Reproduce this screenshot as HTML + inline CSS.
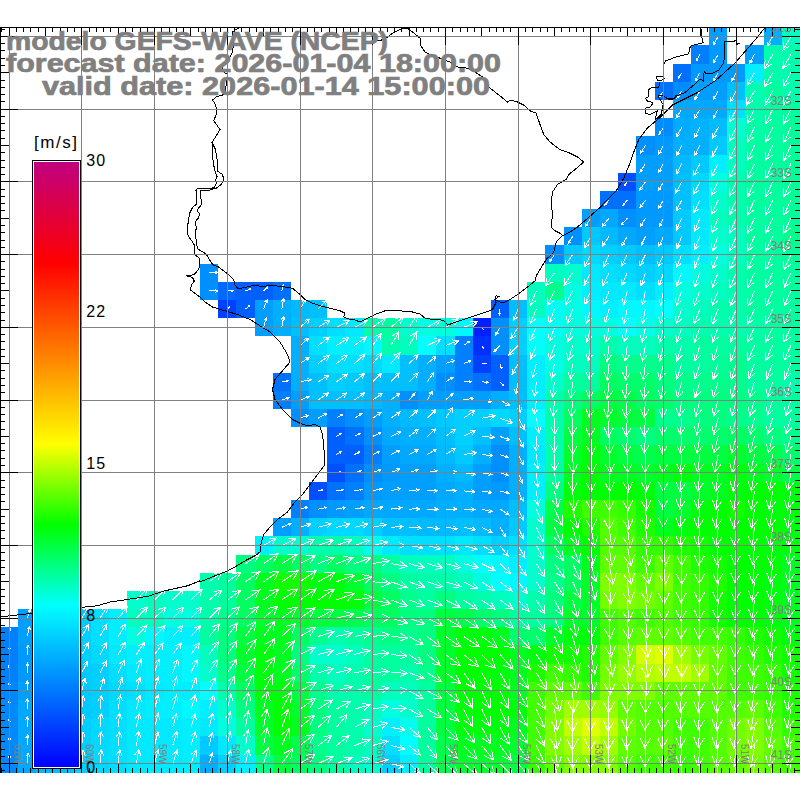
<!DOCTYPE html>
<html><head><meta charset="utf-8"><style>
html,body{margin:0;padding:0;background:#fff;width:800px;height:800px;overflow:hidden;position:relative}
</style></head><body>
<svg width="800" height="800" viewBox="0 0 800 800" style="position:absolute;left:0;top:0">
<defs><linearGradient id="cb" x1="0" y1="1" x2="0" y2="0"><stop offset="0%" stop-color="#0000ff"/><stop offset="26.7%" stop-color="#00ffff"/><stop offset="40%" stop-color="#00ff00"/><stop offset="53.3%" stop-color="#ffff00"/><stop offset="66.7%" stop-color="#ff8c00"/><stop offset="83.3%" stop-color="#ff0000"/><stop offset="100%" stop-color="#c00080"/></linearGradient></defs>
<g shape-rendering="crispEdges">
<rect x="709" y="27" width="18" height="18" fill="#009fff"/>
<rect x="764" y="27" width="18" height="18" fill="#00afff"/>
<rect x="782" y="27" width="18" height="18" fill="#00ffbf"/>
<rect x="691" y="45" width="18" height="19" fill="#0080ff"/>
<rect x="709" y="45" width="18" height="19" fill="#0099ff"/>
<rect x="745" y="45" width="19" height="19" fill="#009fff"/>
<rect x="764" y="45" width="36" height="19" fill="#00ffac"/>
<rect x="673" y="64" width="18" height="18" fill="#0070ff"/>
<rect x="691" y="64" width="54" height="18" fill="#0099ff"/>
<rect x="745" y="64" width="19" height="18" fill="#00efff"/>
<rect x="764" y="64" width="36" height="18" fill="#00ffac"/>
<rect x="655" y="82" width="18" height="18" fill="#0070ff"/>
<rect x="673" y="82" width="18" height="18" fill="#008cff"/>
<rect x="691" y="82" width="36" height="18" fill="#009fff"/>
<rect x="727" y="82" width="18" height="18" fill="#00bfff"/>
<rect x="745" y="82" width="19" height="18" fill="#00ffb3"/>
<rect x="764" y="82" width="18" height="18" fill="#00ff9f"/>
<rect x="782" y="82" width="18" height="18" fill="#00ffac"/>
<rect x="673" y="100" width="54" height="18" fill="#00a9ff"/>
<rect x="727" y="100" width="18" height="18" fill="#00dfff"/>
<rect x="745" y="100" width="19" height="18" fill="#00ffac"/>
<rect x="764" y="100" width="36" height="18" fill="#00ff9f"/>
<rect x="655" y="118" width="18" height="18" fill="#008cff"/>
<rect x="673" y="118" width="18" height="18" fill="#00acff"/>
<rect x="691" y="118" width="18" height="18" fill="#00b2ff"/>
<rect x="709" y="118" width="18" height="18" fill="#00bcff"/>
<rect x="727" y="118" width="18" height="18" fill="#00ffd2"/>
<rect x="745" y="118" width="19" height="18" fill="#00ffa6"/>
<rect x="764" y="118" width="18" height="18" fill="#00ff9f"/>
<rect x="782" y="118" width="18" height="18" fill="#00ff99"/>
<rect x="636" y="136" width="19" height="19" fill="#008fff"/>
<rect x="655" y="136" width="18" height="19" fill="#0099ff"/>
<rect x="673" y="136" width="36" height="19" fill="#00afff"/>
<rect x="709" y="136" width="18" height="19" fill="#00c9ff"/>
<rect x="727" y="136" width="18" height="19" fill="#00ffbf"/>
<rect x="745" y="136" width="37" height="19" fill="#00ff9f"/>
<rect x="782" y="136" width="18" height="19" fill="#00ff99"/>
<rect x="636" y="155" width="37" height="18" fill="#009fff"/>
<rect x="673" y="155" width="18" height="18" fill="#00b9ff"/>
<rect x="691" y="155" width="18" height="18" fill="#00c9ff"/>
<rect x="709" y="155" width="18" height="18" fill="#00efff"/>
<rect x="727" y="155" width="18" height="18" fill="#00ffbf"/>
<rect x="745" y="155" width="37" height="18" fill="#00ff9f"/>
<rect x="782" y="155" width="18" height="18" fill="#00ff99"/>
<rect x="618" y="173" width="18" height="18" fill="#0050ff"/>
<rect x="636" y="173" width="37" height="18" fill="#009fff"/>
<rect x="673" y="173" width="18" height="18" fill="#00bfff"/>
<rect x="691" y="173" width="18" height="18" fill="#00d9ff"/>
<rect x="709" y="173" width="18" height="18" fill="#00ffdf"/>
<rect x="727" y="173" width="18" height="18" fill="#00ffac"/>
<rect x="745" y="173" width="37" height="18" fill="#00ff9f"/>
<rect x="782" y="173" width="18" height="18" fill="#00ff99"/>
<rect x="600" y="191" width="36" height="18" fill="#0070ff"/>
<rect x="636" y="191" width="37" height="18" fill="#0099ff"/>
<rect x="673" y="191" width="18" height="18" fill="#00bfff"/>
<rect x="691" y="191" width="18" height="18" fill="#00dfff"/>
<rect x="709" y="191" width="18" height="18" fill="#00ffcc"/>
<rect x="727" y="191" width="18" height="18" fill="#00ffac"/>
<rect x="745" y="191" width="37" height="18" fill="#00ff9f"/>
<rect x="782" y="191" width="18" height="18" fill="#00ff99"/>
<rect x="582" y="209" width="18" height="18" fill="#009fff"/>
<rect x="600" y="209" width="18" height="18" fill="#00a9ff"/>
<rect x="618" y="209" width="18" height="18" fill="#008fff"/>
<rect x="636" y="209" width="37" height="18" fill="#0099ff"/>
<rect x="673" y="209" width="18" height="18" fill="#00c9ff"/>
<rect x="691" y="209" width="18" height="18" fill="#00e9ff"/>
<rect x="709" y="209" width="18" height="18" fill="#00ffbf"/>
<rect x="727" y="209" width="18" height="18" fill="#00ffac"/>
<rect x="745" y="209" width="37" height="18" fill="#00ff9f"/>
<rect x="782" y="209" width="18" height="18" fill="#00ff99"/>
<rect x="564" y="227" width="18" height="18" fill="#008fff"/>
<rect x="582" y="227" width="18" height="18" fill="#00c9ff"/>
<rect x="600" y="227" width="18" height="18" fill="#00b9ff"/>
<rect x="618" y="227" width="18" height="18" fill="#00a9ff"/>
<rect x="636" y="227" width="19" height="18" fill="#009fff"/>
<rect x="655" y="227" width="18" height="18" fill="#00a9ff"/>
<rect x="673" y="227" width="18" height="18" fill="#00c9ff"/>
<rect x="691" y="227" width="18" height="18" fill="#00e9ff"/>
<rect x="709" y="227" width="18" height="18" fill="#00ffcc"/>
<rect x="727" y="227" width="18" height="18" fill="#00ffbf"/>
<rect x="745" y="227" width="37" height="18" fill="#00ff9f"/>
<rect x="782" y="227" width="18" height="18" fill="#00ff8c"/>
<rect x="545" y="245" width="19" height="19" fill="#008fff"/>
<rect x="564" y="245" width="18" height="19" fill="#00c9ff"/>
<rect x="582" y="245" width="18" height="19" fill="#00d9ff"/>
<rect x="600" y="245" width="18" height="19" fill="#00cfff"/>
<rect x="618" y="245" width="18" height="19" fill="#00c9ff"/>
<rect x="636" y="245" width="19" height="19" fill="#00bfff"/>
<rect x="655" y="245" width="18" height="19" fill="#00c9ff"/>
<rect x="673" y="245" width="18" height="19" fill="#00dfff"/>
<rect x="691" y="245" width="18" height="19" fill="#00efff"/>
<rect x="709" y="245" width="18" height="19" fill="#00ffdf"/>
<rect x="727" y="245" width="18" height="19" fill="#00ffbf"/>
<rect x="745" y="245" width="37" height="19" fill="#00ff9f"/>
<rect x="782" y="245" width="18" height="19" fill="#00ff99"/>
<rect x="200" y="264" width="18" height="18" fill="#008fff"/>
<rect x="545" y="264" width="19" height="18" fill="#00ffbf"/>
<rect x="564" y="264" width="18" height="18" fill="#00ffcc"/>
<rect x="582" y="264" width="18" height="18" fill="#00e9ff"/>
<rect x="600" y="264" width="18" height="18" fill="#00dfff"/>
<rect x="618" y="264" width="18" height="18" fill="#00d9ff"/>
<rect x="636" y="264" width="19" height="18" fill="#00cfff"/>
<rect x="655" y="264" width="18" height="18" fill="#00d9ff"/>
<rect x="673" y="264" width="18" height="18" fill="#00f9ff"/>
<rect x="691" y="264" width="18" height="18" fill="#00ffdf"/>
<rect x="709" y="264" width="18" height="18" fill="#00ffcc"/>
<rect x="727" y="264" width="18" height="18" fill="#00ffac"/>
<rect x="745" y="264" width="55" height="18" fill="#00ff9f"/>
<rect x="200" y="282" width="18" height="18" fill="#008fff"/>
<rect x="218" y="282" width="18" height="18" fill="#0069ff"/>
<rect x="236" y="282" width="37" height="18" fill="#0060ff"/>
<rect x="273" y="282" width="18" height="18" fill="#0070ff"/>
<rect x="527" y="282" width="18" height="18" fill="#00ffbf"/>
<rect x="545" y="282" width="19" height="18" fill="#00ff8c"/>
<rect x="564" y="282" width="18" height="18" fill="#00ffdf"/>
<rect x="582" y="282" width="18" height="18" fill="#00efff"/>
<rect x="600" y="282" width="36" height="18" fill="#00e9ff"/>
<rect x="636" y="282" width="19" height="18" fill="#00dfff"/>
<rect x="655" y="282" width="18" height="18" fill="#00efff"/>
<rect x="673" y="282" width="18" height="18" fill="#00ffdf"/>
<rect x="691" y="282" width="18" height="18" fill="#00ffcc"/>
<rect x="709" y="282" width="18" height="18" fill="#00ffbf"/>
<rect x="727" y="282" width="18" height="18" fill="#00ffac"/>
<rect x="745" y="282" width="55" height="18" fill="#00ff9f"/>
<rect x="218" y="300" width="18" height="18" fill="#0040ff"/>
<rect x="236" y="300" width="19" height="18" fill="#0060ff"/>
<rect x="255" y="300" width="18" height="18" fill="#009fff"/>
<rect x="273" y="300" width="18" height="18" fill="#00afff"/>
<rect x="291" y="300" width="18" height="18" fill="#00b9ff"/>
<rect x="309" y="300" width="18" height="18" fill="#00bfff"/>
<rect x="491" y="300" width="18" height="18" fill="#0060ff"/>
<rect x="509" y="300" width="18" height="18" fill="#00bfff"/>
<rect x="527" y="300" width="18" height="18" fill="#00ffbf"/>
<rect x="545" y="300" width="19" height="18" fill="#00fff2"/>
<rect x="564" y="300" width="18" height="18" fill="#00ffe5"/>
<rect x="582" y="300" width="18" height="18" fill="#00f9ff"/>
<rect x="600" y="300" width="18" height="18" fill="#00efff"/>
<rect x="618" y="300" width="37" height="18" fill="#00f9ff"/>
<rect x="655" y="300" width="18" height="18" fill="#00ffff"/>
<rect x="673" y="300" width="18" height="18" fill="#00ffcc"/>
<rect x="691" y="300" width="18" height="18" fill="#00ffbf"/>
<rect x="709" y="300" width="36" height="18" fill="#00ffac"/>
<rect x="745" y="300" width="55" height="18" fill="#00ff9f"/>
<rect x="255" y="318" width="18" height="18" fill="#009fff"/>
<rect x="273" y="318" width="18" height="18" fill="#00afff"/>
<rect x="291" y="318" width="18" height="18" fill="#00bfff"/>
<rect x="309" y="318" width="18" height="18" fill="#00cfff"/>
<rect x="327" y="318" width="18" height="18" fill="#00dfff"/>
<rect x="345" y="318" width="19" height="18" fill="#00e9ff"/>
<rect x="364" y="318" width="18" height="18" fill="#00ffac"/>
<rect x="382" y="318" width="18" height="18" fill="#00ff9f"/>
<rect x="400" y="318" width="18" height="18" fill="#00ffcc"/>
<rect x="418" y="318" width="18" height="18" fill="#00ffe5"/>
<rect x="436" y="318" width="19" height="18" fill="#00ffdf"/>
<rect x="455" y="318" width="18" height="18" fill="#00f9ff"/>
<rect x="473" y="318" width="18" height="18" fill="#0020ff"/>
<rect x="491" y="318" width="18" height="18" fill="#008fff"/>
<rect x="509" y="318" width="18" height="18" fill="#00cfff"/>
<rect x="527" y="318" width="18" height="18" fill="#00ffff"/>
<rect x="545" y="318" width="19" height="18" fill="#00fff2"/>
<rect x="564" y="318" width="54" height="18" fill="#00ffdf"/>
<rect x="618" y="318" width="18" height="18" fill="#00ffff"/>
<rect x="636" y="318" width="19" height="18" fill="#00ffe5"/>
<rect x="655" y="318" width="18" height="18" fill="#00ffcc"/>
<rect x="673" y="318" width="18" height="18" fill="#00ffbf"/>
<rect x="691" y="318" width="54" height="18" fill="#00ffac"/>
<rect x="745" y="318" width="19" height="18" fill="#00ffa6"/>
<rect x="764" y="318" width="36" height="18" fill="#00ff9f"/>
<rect x="291" y="336" width="18" height="19" fill="#00afff"/>
<rect x="309" y="336" width="18" height="19" fill="#00dfff"/>
<rect x="327" y="336" width="37" height="19" fill="#00efff"/>
<rect x="364" y="336" width="18" height="19" fill="#00f9ff"/>
<rect x="382" y="336" width="18" height="19" fill="#00ffac"/>
<rect x="400" y="336" width="18" height="19" fill="#00ffbf"/>
<rect x="418" y="336" width="18" height="19" fill="#00ffff"/>
<rect x="436" y="336" width="19" height="19" fill="#00dfff"/>
<rect x="455" y="336" width="18" height="19" fill="#0080ff"/>
<rect x="473" y="336" width="18" height="19" fill="#0030ff"/>
<rect x="491" y="336" width="18" height="19" fill="#008fff"/>
<rect x="509" y="336" width="18" height="19" fill="#00cfff"/>
<rect x="527" y="336" width="18" height="19" fill="#00fff9"/>
<rect x="545" y="336" width="19" height="19" fill="#00ffdf"/>
<rect x="564" y="336" width="36" height="19" fill="#00ffcc"/>
<rect x="600" y="336" width="18" height="19" fill="#00ffac"/>
<rect x="618" y="336" width="37" height="19" fill="#00ffbf"/>
<rect x="655" y="336" width="36" height="19" fill="#00ffac"/>
<rect x="691" y="336" width="109" height="19" fill="#00ff9f"/>
<rect x="291" y="355" width="18" height="18" fill="#00afff"/>
<rect x="309" y="355" width="18" height="18" fill="#00cfff"/>
<rect x="327" y="355" width="37" height="18" fill="#00dfff"/>
<rect x="364" y="355" width="18" height="18" fill="#00d9ff"/>
<rect x="382" y="355" width="18" height="18" fill="#00e9ff"/>
<rect x="400" y="355" width="18" height="18" fill="#00bfff"/>
<rect x="418" y="355" width="18" height="18" fill="#00afff"/>
<rect x="436" y="355" width="19" height="18" fill="#009fff"/>
<rect x="455" y="355" width="18" height="18" fill="#0080ff"/>
<rect x="473" y="355" width="18" height="18" fill="#0040ff"/>
<rect x="491" y="355" width="18" height="18" fill="#0060ff"/>
<rect x="509" y="355" width="18" height="18" fill="#00bfff"/>
<rect x="527" y="355" width="18" height="18" fill="#00efff"/>
<rect x="545" y="355" width="19" height="18" fill="#00ffe5"/>
<rect x="564" y="355" width="36" height="18" fill="#00ffbf"/>
<rect x="600" y="355" width="18" height="18" fill="#00ff80"/>
<rect x="618" y="355" width="55" height="18" fill="#00ff8c"/>
<rect x="673" y="355" width="36" height="18" fill="#00ff9f"/>
<rect x="709" y="355" width="18" height="18" fill="#00ff99"/>
<rect x="727" y="355" width="18" height="18" fill="#00ff8c"/>
<rect x="745" y="355" width="55" height="18" fill="#00ff9f"/>
<rect x="273" y="373" width="18" height="18" fill="#0070ff"/>
<rect x="291" y="373" width="18" height="18" fill="#00afff"/>
<rect x="309" y="373" width="18" height="18" fill="#00bfff"/>
<rect x="327" y="373" width="18" height="18" fill="#00cfff"/>
<rect x="345" y="373" width="19" height="18" fill="#00c9ff"/>
<rect x="364" y="373" width="54" height="18" fill="#00bfff"/>
<rect x="418" y="373" width="18" height="18" fill="#00afff"/>
<rect x="436" y="373" width="19" height="18" fill="#008fff"/>
<rect x="455" y="373" width="18" height="18" fill="#0080ff"/>
<rect x="473" y="373" width="18" height="18" fill="#0070ff"/>
<rect x="491" y="373" width="18" height="18" fill="#0060ff"/>
<rect x="509" y="373" width="18" height="18" fill="#00bfff"/>
<rect x="527" y="373" width="18" height="18" fill="#00efff"/>
<rect x="545" y="373" width="19" height="18" fill="#00ffcc"/>
<rect x="564" y="373" width="36" height="18" fill="#00ff9f"/>
<rect x="600" y="373" width="18" height="18" fill="#00ff60"/>
<rect x="618" y="373" width="37" height="18" fill="#00ff6c"/>
<rect x="655" y="373" width="18" height="18" fill="#00ff80"/>
<rect x="673" y="373" width="72" height="18" fill="#00ff8c"/>
<rect x="745" y="373" width="37" height="18" fill="#00ff9f"/>
<rect x="782" y="373" width="18" height="18" fill="#00ffac"/>
<rect x="273" y="391" width="18" height="18" fill="#0080ff"/>
<rect x="291" y="391" width="18" height="18" fill="#009fff"/>
<rect x="309" y="391" width="55" height="18" fill="#00bfff"/>
<rect x="364" y="391" width="18" height="18" fill="#00b9ff"/>
<rect x="382" y="391" width="18" height="18" fill="#00afff"/>
<rect x="400" y="391" width="18" height="18" fill="#008fff"/>
<rect x="418" y="391" width="73" height="18" fill="#009fff"/>
<rect x="491" y="391" width="18" height="18" fill="#00afff"/>
<rect x="509" y="391" width="18" height="18" fill="#00bfff"/>
<rect x="527" y="391" width="18" height="18" fill="#00efff"/>
<rect x="545" y="391" width="19" height="18" fill="#00ffac"/>
<rect x="564" y="391" width="18" height="18" fill="#00ff80"/>
<rect x="582" y="391" width="18" height="18" fill="#00ff60"/>
<rect x="600" y="391" width="18" height="18" fill="#00ff40"/>
<rect x="618" y="391" width="18" height="18" fill="#00ff4c"/>
<rect x="636" y="391" width="19" height="18" fill="#00ff60"/>
<rect x="655" y="391" width="18" height="18" fill="#00ff6c"/>
<rect x="673" y="391" width="72" height="18" fill="#00ff80"/>
<rect x="745" y="391" width="19" height="18" fill="#00ff8c"/>
<rect x="764" y="391" width="36" height="18" fill="#00ff9f"/>
<rect x="291" y="409" width="18" height="18" fill="#008fff"/>
<rect x="309" y="409" width="18" height="18" fill="#009fff"/>
<rect x="327" y="409" width="18" height="18" fill="#0080ff"/>
<rect x="345" y="409" width="19" height="18" fill="#008fff"/>
<rect x="364" y="409" width="18" height="18" fill="#009fff"/>
<rect x="382" y="409" width="18" height="18" fill="#00afff"/>
<rect x="400" y="409" width="18" height="18" fill="#00b9ff"/>
<rect x="418" y="409" width="18" height="18" fill="#00bfff"/>
<rect x="436" y="409" width="19" height="18" fill="#00c9ff"/>
<rect x="455" y="409" width="36" height="18" fill="#00cfff"/>
<rect x="491" y="409" width="18" height="18" fill="#00d9ff"/>
<rect x="509" y="409" width="18" height="18" fill="#00cfff"/>
<rect x="527" y="409" width="18" height="18" fill="#00ffff"/>
<rect x="545" y="409" width="19" height="18" fill="#00ffac"/>
<rect x="564" y="409" width="18" height="18" fill="#00ff60"/>
<rect x="582" y="409" width="18" height="18" fill="#00ff20"/>
<rect x="600" y="409" width="18" height="18" fill="#00ff2d"/>
<rect x="618" y="409" width="37" height="18" fill="#00ff40"/>
<rect x="655" y="409" width="36" height="18" fill="#00ff8c"/>
<rect x="691" y="409" width="36" height="18" fill="#00ff80"/>
<rect x="727" y="409" width="37" height="18" fill="#00ff8c"/>
<rect x="764" y="409" width="36" height="18" fill="#00ff9f"/>
<rect x="327" y="427" width="18" height="18" fill="#0060ff"/>
<rect x="345" y="427" width="19" height="18" fill="#0070ff"/>
<rect x="364" y="427" width="18" height="18" fill="#008fff"/>
<rect x="382" y="427" width="18" height="18" fill="#00a9ff"/>
<rect x="400" y="427" width="36" height="18" fill="#00afff"/>
<rect x="436" y="427" width="19" height="18" fill="#00bfff"/>
<rect x="455" y="427" width="18" height="18" fill="#00cfff"/>
<rect x="473" y="427" width="18" height="18" fill="#00bfff"/>
<rect x="491" y="427" width="18" height="18" fill="#009fff"/>
<rect x="509" y="427" width="18" height="18" fill="#00bfff"/>
<rect x="527" y="427" width="18" height="18" fill="#00efff"/>
<rect x="545" y="427" width="19" height="18" fill="#00ffac"/>
<rect x="564" y="427" width="18" height="18" fill="#00ff40"/>
<rect x="582" y="427" width="18" height="18" fill="#00ff20"/>
<rect x="600" y="427" width="18" height="18" fill="#00ff60"/>
<rect x="618" y="427" width="18" height="18" fill="#00ff6c"/>
<rect x="636" y="427" width="19" height="18" fill="#00ff80"/>
<rect x="655" y="427" width="72" height="18" fill="#00ff6c"/>
<rect x="727" y="427" width="18" height="18" fill="#00ff60"/>
<rect x="745" y="427" width="19" height="18" fill="#00ff6c"/>
<rect x="764" y="427" width="18" height="18" fill="#00ff80"/>
<rect x="782" y="427" width="18" height="18" fill="#00ff8c"/>
<rect x="327" y="445" width="37" height="19" fill="#0060ff"/>
<rect x="364" y="445" width="18" height="19" fill="#0080ff"/>
<rect x="382" y="445" width="18" height="19" fill="#009fff"/>
<rect x="400" y="445" width="36" height="19" fill="#00a9ff"/>
<rect x="436" y="445" width="19" height="19" fill="#00b9ff"/>
<rect x="455" y="445" width="18" height="19" fill="#00c9ff"/>
<rect x="473" y="445" width="18" height="19" fill="#00afff"/>
<rect x="491" y="445" width="18" height="19" fill="#008fff"/>
<rect x="509" y="445" width="18" height="19" fill="#00afff"/>
<rect x="527" y="445" width="18" height="19" fill="#00e9ff"/>
<rect x="545" y="445" width="19" height="19" fill="#00ffac"/>
<rect x="564" y="445" width="18" height="19" fill="#00ff2d"/>
<rect x="582" y="445" width="18" height="19" fill="#00ff0d"/>
<rect x="600" y="445" width="18" height="19" fill="#00ff2d"/>
<rect x="618" y="445" width="18" height="19" fill="#00ff40"/>
<rect x="636" y="445" width="19" height="19" fill="#00ff4c"/>
<rect x="655" y="445" width="72" height="19" fill="#00ff40"/>
<rect x="727" y="445" width="18" height="19" fill="#00ff2d"/>
<rect x="745" y="445" width="19" height="19" fill="#00ff40"/>
<rect x="764" y="445" width="18" height="19" fill="#00ff4c"/>
<rect x="782" y="445" width="18" height="19" fill="#00ff6c"/>
<rect x="327" y="464" width="18" height="18" fill="#0050ff"/>
<rect x="345" y="464" width="19" height="18" fill="#0070ff"/>
<rect x="364" y="464" width="18" height="18" fill="#008fff"/>
<rect x="382" y="464" width="18" height="18" fill="#0099ff"/>
<rect x="400" y="464" width="36" height="18" fill="#009fff"/>
<rect x="436" y="464" width="19" height="18" fill="#00afff"/>
<rect x="455" y="464" width="18" height="18" fill="#00b9ff"/>
<rect x="473" y="464" width="18" height="18" fill="#009fff"/>
<rect x="491" y="464" width="18" height="18" fill="#008fff"/>
<rect x="509" y="464" width="18" height="18" fill="#00afff"/>
<rect x="527" y="464" width="18" height="18" fill="#00efff"/>
<rect x="545" y="464" width="19" height="18" fill="#00ff9f"/>
<rect x="564" y="464" width="18" height="18" fill="#00ff20"/>
<rect x="582" y="464" width="18" height="18" fill="#00ff00"/>
<rect x="600" y="464" width="36" height="18" fill="#00ff20"/>
<rect x="636" y="464" width="19" height="18" fill="#00ff2d"/>
<rect x="655" y="464" width="18" height="18" fill="#00ff20"/>
<rect x="673" y="464" width="18" height="18" fill="#00ff0d"/>
<rect x="691" y="464" width="36" height="18" fill="#00ff20"/>
<rect x="727" y="464" width="18" height="18" fill="#00ff0d"/>
<rect x="745" y="464" width="19" height="18" fill="#00ff20"/>
<rect x="764" y="464" width="18" height="18" fill="#00ff2d"/>
<rect x="782" y="464" width="18" height="18" fill="#00ff4c"/>
<rect x="309" y="482" width="18" height="18" fill="#0050ff"/>
<rect x="327" y="482" width="18" height="18" fill="#0070ff"/>
<rect x="345" y="482" width="19" height="18" fill="#0080ff"/>
<rect x="364" y="482" width="18" height="18" fill="#0099ff"/>
<rect x="382" y="482" width="54" height="18" fill="#009fff"/>
<rect x="436" y="482" width="19" height="18" fill="#00a9ff"/>
<rect x="455" y="482" width="18" height="18" fill="#00afff"/>
<rect x="473" y="482" width="18" height="18" fill="#009fff"/>
<rect x="491" y="482" width="18" height="18" fill="#0099ff"/>
<rect x="509" y="482" width="18" height="18" fill="#00afff"/>
<rect x="527" y="482" width="18" height="18" fill="#00efff"/>
<rect x="545" y="482" width="19" height="18" fill="#00ff80"/>
<rect x="564" y="482" width="18" height="18" fill="#00ff0d"/>
<rect x="582" y="482" width="54" height="18" fill="#00ff00"/>
<rect x="636" y="482" width="19" height="18" fill="#00ff0d"/>
<rect x="655" y="482" width="36" height="18" fill="#00ff40"/>
<rect x="691" y="482" width="18" height="18" fill="#00ff2d"/>
<rect x="709" y="482" width="18" height="18" fill="#00ff20"/>
<rect x="727" y="482" width="18" height="18" fill="#00ff0d"/>
<rect x="745" y="482" width="37" height="18" fill="#00ff00"/>
<rect x="782" y="482" width="18" height="18" fill="#00ff0d"/>
<rect x="291" y="500" width="18" height="18" fill="#0080ff"/>
<rect x="309" y="500" width="18" height="18" fill="#008fff"/>
<rect x="327" y="500" width="18" height="18" fill="#0099ff"/>
<rect x="345" y="500" width="19" height="18" fill="#009fff"/>
<rect x="364" y="500" width="72" height="18" fill="#00a9ff"/>
<rect x="436" y="500" width="37" height="18" fill="#00afff"/>
<rect x="473" y="500" width="36" height="18" fill="#00a9ff"/>
<rect x="509" y="500" width="18" height="18" fill="#00bfff"/>
<rect x="527" y="500" width="18" height="18" fill="#00ffdf"/>
<rect x="545" y="500" width="19" height="18" fill="#00ff4c"/>
<rect x="564" y="500" width="18" height="18" fill="#20ff00"/>
<rect x="582" y="500" width="36" height="18" fill="#40ff00"/>
<rect x="618" y="500" width="18" height="18" fill="#33ff00"/>
<rect x="636" y="500" width="19" height="18" fill="#13ff00"/>
<rect x="655" y="500" width="18" height="18" fill="#00ff40"/>
<rect x="673" y="500" width="18" height="18" fill="#00ff2d"/>
<rect x="691" y="500" width="18" height="18" fill="#00ff0d"/>
<rect x="709" y="500" width="18" height="18" fill="#00ff00"/>
<rect x="727" y="500" width="18" height="18" fill="#13ff00"/>
<rect x="745" y="500" width="19" height="18" fill="#00ff00"/>
<rect x="764" y="500" width="36" height="18" fill="#00ff0d"/>
<rect x="273" y="518" width="18" height="18" fill="#009fff"/>
<rect x="291" y="518" width="18" height="18" fill="#00afff"/>
<rect x="309" y="518" width="18" height="18" fill="#00cfff"/>
<rect x="327" y="518" width="37" height="18" fill="#00d9ff"/>
<rect x="364" y="518" width="18" height="18" fill="#00cfff"/>
<rect x="382" y="518" width="36" height="18" fill="#00bfff"/>
<rect x="418" y="518" width="37" height="18" fill="#00b9ff"/>
<rect x="455" y="518" width="18" height="18" fill="#00bfff"/>
<rect x="473" y="518" width="18" height="18" fill="#00b9ff"/>
<rect x="491" y="518" width="18" height="18" fill="#00afff"/>
<rect x="509" y="518" width="18" height="18" fill="#00c9ff"/>
<rect x="527" y="518" width="18" height="18" fill="#00ffcc"/>
<rect x="545" y="518" width="19" height="18" fill="#00ff40"/>
<rect x="564" y="518" width="18" height="18" fill="#00ff00"/>
<rect x="582" y="518" width="18" height="18" fill="#20ff00"/>
<rect x="600" y="518" width="18" height="18" fill="#53ff00"/>
<rect x="618" y="518" width="18" height="18" fill="#40ff00"/>
<rect x="636" y="518" width="19" height="18" fill="#20ff00"/>
<rect x="655" y="518" width="18" height="18" fill="#00ff20"/>
<rect x="673" y="518" width="18" height="18" fill="#00ff0d"/>
<rect x="691" y="518" width="91" height="18" fill="#00ff00"/>
<rect x="782" y="518" width="18" height="18" fill="#00ff0d"/>
<rect x="255" y="536" width="18" height="19" fill="#00efff"/>
<rect x="273" y="536" width="36" height="19" fill="#00ffcc"/>
<rect x="309" y="536" width="36" height="19" fill="#00ffac"/>
<rect x="345" y="536" width="19" height="19" fill="#00ffbf"/>
<rect x="364" y="536" width="18" height="19" fill="#00ffec"/>
<rect x="382" y="536" width="18" height="19" fill="#00e9ff"/>
<rect x="400" y="536" width="55" height="19" fill="#00dfff"/>
<rect x="455" y="536" width="18" height="19" fill="#00e9ff"/>
<rect x="473" y="536" width="18" height="19" fill="#00dfff"/>
<rect x="491" y="536" width="18" height="19" fill="#00cfff"/>
<rect x="509" y="536" width="18" height="19" fill="#00dfff"/>
<rect x="527" y="536" width="18" height="19" fill="#00ffcc"/>
<rect x="545" y="536" width="19" height="19" fill="#00ff60"/>
<rect x="564" y="536" width="18" height="19" fill="#00ff20"/>
<rect x="582" y="536" width="18" height="19" fill="#00ff00"/>
<rect x="600" y="536" width="36" height="19" fill="#53ff00"/>
<rect x="636" y="536" width="37" height="19" fill="#33ff00"/>
<rect x="673" y="536" width="18" height="19" fill="#20ff00"/>
<rect x="691" y="536" width="18" height="19" fill="#13ff00"/>
<rect x="709" y="536" width="55" height="19" fill="#00ff00"/>
<rect x="764" y="536" width="36" height="19" fill="#00ff0d"/>
<rect x="236" y="555" width="19" height="18" fill="#00ff80"/>
<rect x="255" y="555" width="18" height="18" fill="#00ff60"/>
<rect x="273" y="555" width="18" height="18" fill="#00ff40"/>
<rect x="291" y="555" width="18" height="18" fill="#00ff60"/>
<rect x="309" y="555" width="18" height="18" fill="#00ff80"/>
<rect x="327" y="555" width="18" height="18" fill="#00ff60"/>
<rect x="345" y="555" width="37" height="18" fill="#00ff80"/>
<rect x="382" y="555" width="18" height="18" fill="#00ff9f"/>
<rect x="400" y="555" width="55" height="18" fill="#00ffbf"/>
<rect x="455" y="555" width="18" height="18" fill="#00ffdf"/>
<rect x="473" y="555" width="18" height="18" fill="#00ffff"/>
<rect x="491" y="555" width="18" height="18" fill="#00f9ff"/>
<rect x="509" y="555" width="18" height="18" fill="#00efff"/>
<rect x="527" y="555" width="18" height="18" fill="#00ffcc"/>
<rect x="545" y="555" width="19" height="18" fill="#00ff80"/>
<rect x="564" y="555" width="18" height="18" fill="#00ff60"/>
<rect x="582" y="555" width="18" height="18" fill="#00ff20"/>
<rect x="600" y="555" width="36" height="18" fill="#60ff00"/>
<rect x="636" y="555" width="19" height="18" fill="#40ff00"/>
<rect x="655" y="555" width="18" height="18" fill="#60ff00"/>
<rect x="673" y="555" width="18" height="18" fill="#40ff00"/>
<rect x="691" y="555" width="18" height="18" fill="#20ff00"/>
<rect x="709" y="555" width="18" height="18" fill="#13ff00"/>
<rect x="727" y="555" width="55" height="18" fill="#00ff00"/>
<rect x="782" y="555" width="18" height="18" fill="#00ff20"/>
<rect x="200" y="573" width="18" height="18" fill="#00ffac"/>
<rect x="218" y="573" width="18" height="18" fill="#00ff9f"/>
<rect x="236" y="573" width="19" height="18" fill="#00ff60"/>
<rect x="255" y="573" width="18" height="18" fill="#00ff20"/>
<rect x="273" y="573" width="36" height="18" fill="#13ff00"/>
<rect x="309" y="573" width="36" height="18" fill="#00ff0d"/>
<rect x="345" y="573" width="19" height="18" fill="#00ff2d"/>
<rect x="364" y="573" width="18" height="18" fill="#00ff60"/>
<rect x="382" y="573" width="18" height="18" fill="#00ff80"/>
<rect x="400" y="573" width="18" height="18" fill="#00ff9f"/>
<rect x="418" y="573" width="37" height="18" fill="#00ffac"/>
<rect x="455" y="573" width="18" height="18" fill="#00ffbf"/>
<rect x="473" y="573" width="18" height="18" fill="#00ffdf"/>
<rect x="491" y="573" width="18" height="18" fill="#00ffff"/>
<rect x="509" y="573" width="18" height="18" fill="#00f9ff"/>
<rect x="527" y="573" width="18" height="18" fill="#00ffcc"/>
<rect x="545" y="573" width="19" height="18" fill="#00ff8c"/>
<rect x="564" y="573" width="18" height="18" fill="#00ff60"/>
<rect x="582" y="573" width="18" height="18" fill="#00ff2d"/>
<rect x="600" y="573" width="36" height="18" fill="#80ff00"/>
<rect x="636" y="573" width="19" height="18" fill="#60ff00"/>
<rect x="655" y="573" width="18" height="18" fill="#80ff00"/>
<rect x="673" y="573" width="18" height="18" fill="#40ff00"/>
<rect x="691" y="573" width="18" height="18" fill="#33ff00"/>
<rect x="709" y="573" width="18" height="18" fill="#20ff00"/>
<rect x="727" y="573" width="37" height="18" fill="#00ff00"/>
<rect x="764" y="573" width="18" height="18" fill="#00ff0d"/>
<rect x="782" y="573" width="18" height="18" fill="#00ff20"/>
<rect x="127" y="591" width="18" height="18" fill="#00ffcc"/>
<rect x="145" y="591" width="19" height="18" fill="#00ffbf"/>
<rect x="164" y="591" width="36" height="18" fill="#00ffcc"/>
<rect x="200" y="591" width="18" height="18" fill="#00ffac"/>
<rect x="218" y="591" width="18" height="18" fill="#00ff9f"/>
<rect x="236" y="591" width="19" height="18" fill="#00ff60"/>
<rect x="255" y="591" width="18" height="18" fill="#00ff20"/>
<rect x="273" y="591" width="72" height="18" fill="#00ff00"/>
<rect x="345" y="591" width="19" height="18" fill="#00ff0d"/>
<rect x="364" y="591" width="18" height="18" fill="#00ff40"/>
<rect x="382" y="591" width="18" height="18" fill="#00ff60"/>
<rect x="400" y="591" width="18" height="18" fill="#00ff8c"/>
<rect x="418" y="591" width="18" height="18" fill="#00ff9f"/>
<rect x="436" y="591" width="19" height="18" fill="#00ff80"/>
<rect x="455" y="591" width="18" height="18" fill="#00ff9f"/>
<rect x="473" y="591" width="18" height="18" fill="#00ffac"/>
<rect x="491" y="591" width="18" height="18" fill="#00ffbf"/>
<rect x="509" y="591" width="18" height="18" fill="#00ffcc"/>
<rect x="527" y="591" width="18" height="18" fill="#00ffac"/>
<rect x="545" y="591" width="19" height="18" fill="#00ff80"/>
<rect x="564" y="591" width="18" height="18" fill="#00ff40"/>
<rect x="582" y="591" width="18" height="18" fill="#00ff2d"/>
<rect x="600" y="591" width="18" height="18" fill="#73ff00"/>
<rect x="618" y="591" width="18" height="18" fill="#80ff00"/>
<rect x="636" y="591" width="19" height="18" fill="#73ff00"/>
<rect x="655" y="591" width="18" height="18" fill="#60ff00"/>
<rect x="673" y="591" width="18" height="18" fill="#40ff00"/>
<rect x="691" y="591" width="18" height="18" fill="#33ff00"/>
<rect x="709" y="591" width="18" height="18" fill="#13ff00"/>
<rect x="727" y="591" width="37" height="18" fill="#00ff00"/>
<rect x="764" y="591" width="18" height="18" fill="#00ff0d"/>
<rect x="782" y="591" width="18" height="18" fill="#00ff20"/>
<rect x="18" y="609" width="18" height="18" fill="#009fff"/>
<rect x="36" y="609" width="19" height="18" fill="#00afff"/>
<rect x="55" y="609" width="18" height="18" fill="#00bfff"/>
<rect x="73" y="609" width="18" height="18" fill="#00c9ff"/>
<rect x="91" y="609" width="18" height="18" fill="#00dfff"/>
<rect x="109" y="609" width="18" height="18" fill="#00efff"/>
<rect x="127" y="609" width="37" height="18" fill="#00ffbf"/>
<rect x="164" y="609" width="36" height="18" fill="#00ffdf"/>
<rect x="200" y="609" width="18" height="18" fill="#00ffac"/>
<rect x="218" y="609" width="18" height="18" fill="#00ff8c"/>
<rect x="236" y="609" width="19" height="18" fill="#00ff60"/>
<rect x="255" y="609" width="18" height="18" fill="#00ff2d"/>
<rect x="273" y="609" width="18" height="18" fill="#00ff20"/>
<rect x="291" y="609" width="18" height="18" fill="#00ff2d"/>
<rect x="309" y="609" width="36" height="18" fill="#00ff40"/>
<rect x="345" y="609" width="19" height="18" fill="#00ff4c"/>
<rect x="364" y="609" width="36" height="18" fill="#00ff60"/>
<rect x="400" y="609" width="36" height="18" fill="#00ff80"/>
<rect x="436" y="609" width="19" height="18" fill="#00ff40"/>
<rect x="455" y="609" width="18" height="18" fill="#00ff4c"/>
<rect x="473" y="609" width="18" height="18" fill="#00ff6c"/>
<rect x="491" y="609" width="18" height="18" fill="#00ff80"/>
<rect x="509" y="609" width="36" height="18" fill="#00ff9f"/>
<rect x="545" y="609" width="19" height="18" fill="#00ff80"/>
<rect x="564" y="609" width="36" height="18" fill="#00ff2d"/>
<rect x="600" y="609" width="18" height="18" fill="#40ff00"/>
<rect x="618" y="609" width="18" height="18" fill="#53ff00"/>
<rect x="636" y="609" width="19" height="18" fill="#40ff00"/>
<rect x="655" y="609" width="18" height="18" fill="#53ff00"/>
<rect x="673" y="609" width="18" height="18" fill="#40ff00"/>
<rect x="691" y="609" width="18" height="18" fill="#33ff00"/>
<rect x="709" y="609" width="18" height="18" fill="#13ff00"/>
<rect x="727" y="609" width="37" height="18" fill="#00ff00"/>
<rect x="764" y="609" width="18" height="18" fill="#00ff0d"/>
<rect x="782" y="609" width="18" height="18" fill="#00ff20"/>
<rect x="0" y="627" width="18" height="18" fill="#0080ff"/>
<rect x="18" y="627" width="18" height="18" fill="#009fff"/>
<rect x="36" y="627" width="19" height="18" fill="#00afff"/>
<rect x="55" y="627" width="18" height="18" fill="#00bfff"/>
<rect x="73" y="627" width="18" height="18" fill="#00cfff"/>
<rect x="91" y="627" width="18" height="18" fill="#00dfff"/>
<rect x="109" y="627" width="18" height="18" fill="#00efff"/>
<rect x="127" y="627" width="18" height="18" fill="#00ffdf"/>
<rect x="145" y="627" width="19" height="18" fill="#00f9ff"/>
<rect x="164" y="627" width="36" height="18" fill="#00efff"/>
<rect x="200" y="627" width="18" height="18" fill="#00ff9f"/>
<rect x="218" y="627" width="18" height="18" fill="#00ff80"/>
<rect x="236" y="627" width="19" height="18" fill="#00ff40"/>
<rect x="255" y="627" width="36" height="18" fill="#00ff20"/>
<rect x="291" y="627" width="18" height="18" fill="#00ff60"/>
<rect x="309" y="627" width="18" height="18" fill="#00ff8c"/>
<rect x="327" y="627" width="18" height="18" fill="#00ffac"/>
<rect x="345" y="627" width="19" height="18" fill="#00ff9f"/>
<rect x="364" y="627" width="18" height="18" fill="#00ff8c"/>
<rect x="382" y="627" width="18" height="18" fill="#00ff80"/>
<rect x="400" y="627" width="18" height="18" fill="#00ff8c"/>
<rect x="418" y="627" width="18" height="18" fill="#00ff80"/>
<rect x="436" y="627" width="19" height="18" fill="#00ff2d"/>
<rect x="455" y="627" width="36" height="18" fill="#00ff0d"/>
<rect x="491" y="627" width="18" height="18" fill="#00ff20"/>
<rect x="509" y="627" width="36" height="18" fill="#00ff6c"/>
<rect x="545" y="627" width="19" height="18" fill="#00ff2d"/>
<rect x="564" y="627" width="36" height="18" fill="#00ff0d"/>
<rect x="600" y="627" width="18" height="18" fill="#40ff00"/>
<rect x="618" y="627" width="18" height="18" fill="#53ff00"/>
<rect x="636" y="627" width="37" height="18" fill="#60ff00"/>
<rect x="673" y="627" width="18" height="18" fill="#53ff00"/>
<rect x="691" y="627" width="36" height="18" fill="#40ff00"/>
<rect x="727" y="627" width="18" height="18" fill="#33ff00"/>
<rect x="745" y="627" width="19" height="18" fill="#20ff00"/>
<rect x="764" y="627" width="18" height="18" fill="#13ff00"/>
<rect x="782" y="627" width="18" height="18" fill="#00ff0d"/>
<rect x="0" y="645" width="18" height="19" fill="#0080ff"/>
<rect x="18" y="645" width="18" height="19" fill="#0099ff"/>
<rect x="36" y="645" width="19" height="19" fill="#00afff"/>
<rect x="55" y="645" width="18" height="19" fill="#00bfff"/>
<rect x="73" y="645" width="18" height="19" fill="#00cfff"/>
<rect x="91" y="645" width="18" height="19" fill="#00d9ff"/>
<rect x="109" y="645" width="18" height="19" fill="#00e9ff"/>
<rect x="127" y="645" width="55" height="19" fill="#00efff"/>
<rect x="182" y="645" width="18" height="19" fill="#00f9ff"/>
<rect x="200" y="645" width="18" height="19" fill="#00ffbf"/>
<rect x="218" y="645" width="18" height="19" fill="#00ff80"/>
<rect x="236" y="645" width="19" height="19" fill="#00ff2d"/>
<rect x="255" y="645" width="18" height="19" fill="#00ff0d"/>
<rect x="273" y="645" width="18" height="19" fill="#00ff20"/>
<rect x="291" y="645" width="18" height="19" fill="#00ff80"/>
<rect x="309" y="645" width="36" height="19" fill="#00ffcc"/>
<rect x="345" y="645" width="19" height="19" fill="#00ffbf"/>
<rect x="364" y="645" width="54" height="19" fill="#00ff9f"/>
<rect x="418" y="645" width="18" height="19" fill="#00ff80"/>
<rect x="436" y="645" width="19" height="19" fill="#00ff2d"/>
<rect x="455" y="645" width="54" height="19" fill="#00ff00"/>
<rect x="509" y="645" width="18" height="19" fill="#00ff20"/>
<rect x="527" y="645" width="18" height="19" fill="#00ff0d"/>
<rect x="545" y="645" width="37" height="19" fill="#13ff00"/>
<rect x="582" y="645" width="18" height="19" fill="#20ff00"/>
<rect x="600" y="645" width="18" height="19" fill="#60ff00"/>
<rect x="618" y="645" width="18" height="19" fill="#80ff00"/>
<rect x="636" y="645" width="19" height="19" fill="#d2ff00"/>
<rect x="655" y="645" width="18" height="19" fill="#dfff00"/>
<rect x="673" y="645" width="18" height="19" fill="#9fff00"/>
<rect x="691" y="645" width="18" height="19" fill="#73ff00"/>
<rect x="709" y="645" width="18" height="19" fill="#60ff00"/>
<rect x="727" y="645" width="18" height="19" fill="#40ff00"/>
<rect x="745" y="645" width="19" height="19" fill="#33ff00"/>
<rect x="764" y="645" width="18" height="19" fill="#20ff00"/>
<rect x="782" y="645" width="18" height="19" fill="#13ff00"/>
<rect x="0" y="664" width="18" height="18" fill="#0080ff"/>
<rect x="18" y="664" width="18" height="18" fill="#0099ff"/>
<rect x="36" y="664" width="19" height="18" fill="#00afff"/>
<rect x="55" y="664" width="18" height="18" fill="#00bfff"/>
<rect x="73" y="664" width="18" height="18" fill="#00c9ff"/>
<rect x="91" y="664" width="18" height="18" fill="#00cfff"/>
<rect x="109" y="664" width="18" height="18" fill="#00dfff"/>
<rect x="127" y="664" width="18" height="18" fill="#00e9ff"/>
<rect x="145" y="664" width="37" height="18" fill="#00efff"/>
<rect x="182" y="664" width="18" height="18" fill="#00f9ff"/>
<rect x="200" y="664" width="18" height="18" fill="#00ffcc"/>
<rect x="218" y="664" width="18" height="18" fill="#00ff8c"/>
<rect x="236" y="664" width="19" height="18" fill="#00ff40"/>
<rect x="255" y="664" width="18" height="18" fill="#00ff0d"/>
<rect x="273" y="664" width="18" height="18" fill="#00ff20"/>
<rect x="291" y="664" width="18" height="18" fill="#00ff6c"/>
<rect x="309" y="664" width="18" height="18" fill="#00ffac"/>
<rect x="327" y="664" width="18" height="18" fill="#00ffbf"/>
<rect x="345" y="664" width="19" height="18" fill="#00ffac"/>
<rect x="364" y="664" width="36" height="18" fill="#00ff9f"/>
<rect x="400" y="664" width="18" height="18" fill="#00ffac"/>
<rect x="418" y="664" width="18" height="18" fill="#00ff8c"/>
<rect x="436" y="664" width="19" height="18" fill="#00ff2d"/>
<rect x="455" y="664" width="36" height="18" fill="#00ff00"/>
<rect x="491" y="664" width="18" height="18" fill="#00ff0d"/>
<rect x="509" y="664" width="18" height="18" fill="#00ff20"/>
<rect x="527" y="664" width="18" height="18" fill="#20ff00"/>
<rect x="545" y="664" width="19" height="18" fill="#40ff00"/>
<rect x="564" y="664" width="18" height="18" fill="#33ff00"/>
<rect x="582" y="664" width="18" height="18" fill="#20ff00"/>
<rect x="600" y="664" width="18" height="18" fill="#73ff00"/>
<rect x="618" y="664" width="18" height="18" fill="#93ff00"/>
<rect x="636" y="664" width="19" height="18" fill="#b3ff00"/>
<rect x="655" y="664" width="36" height="18" fill="#bfff00"/>
<rect x="691" y="664" width="18" height="18" fill="#9fff00"/>
<rect x="709" y="664" width="18" height="18" fill="#60ff00"/>
<rect x="727" y="664" width="37" height="18" fill="#40ff00"/>
<rect x="764" y="664" width="18" height="18" fill="#33ff00"/>
<rect x="782" y="664" width="18" height="18" fill="#13ff00"/>
<rect x="0" y="682" width="18" height="18" fill="#0086ff"/>
<rect x="18" y="682" width="18" height="18" fill="#009fff"/>
<rect x="36" y="682" width="19" height="18" fill="#00afff"/>
<rect x="55" y="682" width="18" height="18" fill="#00bfff"/>
<rect x="73" y="682" width="18" height="18" fill="#00c9ff"/>
<rect x="91" y="682" width="18" height="18" fill="#00cfff"/>
<rect x="109" y="682" width="18" height="18" fill="#00d9ff"/>
<rect x="127" y="682" width="18" height="18" fill="#00dfff"/>
<rect x="145" y="682" width="19" height="18" fill="#00e9ff"/>
<rect x="164" y="682" width="36" height="18" fill="#00efff"/>
<rect x="200" y="682" width="18" height="18" fill="#00ffff"/>
<rect x="218" y="682" width="18" height="18" fill="#00ffac"/>
<rect x="236" y="682" width="19" height="18" fill="#00ff60"/>
<rect x="255" y="682" width="36" height="18" fill="#00ff0d"/>
<rect x="291" y="682" width="18" height="18" fill="#00ff40"/>
<rect x="309" y="682" width="18" height="18" fill="#00ff8c"/>
<rect x="327" y="682" width="37" height="18" fill="#00ffac"/>
<rect x="364" y="682" width="18" height="18" fill="#00ff9f"/>
<rect x="382" y="682" width="36" height="18" fill="#00ffbf"/>
<rect x="418" y="682" width="18" height="18" fill="#00ff9f"/>
<rect x="436" y="682" width="19" height="18" fill="#00ff40"/>
<rect x="455" y="682" width="54" height="18" fill="#00ff00"/>
<rect x="509" y="682" width="18" height="18" fill="#00ff20"/>
<rect x="527" y="682" width="18" height="18" fill="#40ff00"/>
<rect x="545" y="682" width="37" height="18" fill="#60ff00"/>
<rect x="582" y="682" width="18" height="18" fill="#40ff00"/>
<rect x="600" y="682" width="55" height="18" fill="#80ff00"/>
<rect x="655" y="682" width="72" height="18" fill="#60ff00"/>
<rect x="727" y="682" width="37" height="18" fill="#40ff00"/>
<rect x="764" y="682" width="18" height="18" fill="#33ff00"/>
<rect x="782" y="682" width="18" height="18" fill="#20ff00"/>
<rect x="0" y="700" width="18" height="18" fill="#0089ff"/>
<rect x="18" y="700" width="18" height="18" fill="#00a9ff"/>
<rect x="36" y="700" width="19" height="18" fill="#00b9ff"/>
<rect x="55" y="700" width="18" height="18" fill="#00bfff"/>
<rect x="73" y="700" width="18" height="18" fill="#00c9ff"/>
<rect x="91" y="700" width="18" height="18" fill="#00cfff"/>
<rect x="109" y="700" width="18" height="18" fill="#00dfff"/>
<rect x="127" y="700" width="18" height="18" fill="#00e9ff"/>
<rect x="145" y="700" width="37" height="18" fill="#00efff"/>
<rect x="182" y="700" width="18" height="18" fill="#00f9ff"/>
<rect x="200" y="700" width="18" height="18" fill="#00efff"/>
<rect x="218" y="700" width="18" height="18" fill="#00ffcc"/>
<rect x="236" y="700" width="19" height="18" fill="#00ff80"/>
<rect x="255" y="700" width="18" height="18" fill="#00ff20"/>
<rect x="273" y="700" width="18" height="18" fill="#00ff00"/>
<rect x="291" y="700" width="18" height="18" fill="#00ff2d"/>
<rect x="309" y="700" width="18" height="18" fill="#00ff80"/>
<rect x="327" y="700" width="18" height="18" fill="#00ff9f"/>
<rect x="345" y="700" width="19" height="18" fill="#00ffac"/>
<rect x="364" y="700" width="18" height="18" fill="#00ffbf"/>
<rect x="382" y="700" width="18" height="18" fill="#00ffdf"/>
<rect x="400" y="700" width="18" height="18" fill="#00ffcc"/>
<rect x="418" y="700" width="18" height="18" fill="#00ff9f"/>
<rect x="436" y="700" width="19" height="18" fill="#00ff40"/>
<rect x="455" y="700" width="18" height="18" fill="#00ff0d"/>
<rect x="473" y="700" width="36" height="18" fill="#00ff00"/>
<rect x="509" y="700" width="18" height="18" fill="#00ff0d"/>
<rect x="527" y="700" width="18" height="18" fill="#40ff00"/>
<rect x="545" y="700" width="19" height="18" fill="#73ff00"/>
<rect x="564" y="700" width="36" height="18" fill="#9fff00"/>
<rect x="600" y="700" width="18" height="18" fill="#93ff00"/>
<rect x="618" y="700" width="18" height="18" fill="#60ff00"/>
<rect x="636" y="700" width="109" height="18" fill="#53ff00"/>
<rect x="745" y="700" width="19" height="18" fill="#60ff00"/>
<rect x="764" y="700" width="18" height="18" fill="#40ff00"/>
<rect x="782" y="700" width="18" height="18" fill="#20ff00"/>
<rect x="0" y="718" width="18" height="18" fill="#0089ff"/>
<rect x="18" y="718" width="18" height="18" fill="#00a9ff"/>
<rect x="36" y="718" width="19" height="18" fill="#00b9ff"/>
<rect x="55" y="718" width="18" height="18" fill="#00bfff"/>
<rect x="73" y="718" width="18" height="18" fill="#00cfff"/>
<rect x="91" y="718" width="18" height="18" fill="#00d9ff"/>
<rect x="109" y="718" width="18" height="18" fill="#00dfff"/>
<rect x="127" y="718" width="55" height="18" fill="#00e9ff"/>
<rect x="182" y="718" width="18" height="18" fill="#00efff"/>
<rect x="200" y="718" width="18" height="18" fill="#00e9ff"/>
<rect x="218" y="718" width="18" height="18" fill="#00ffdf"/>
<rect x="236" y="718" width="19" height="18" fill="#00ff9f"/>
<rect x="255" y="718" width="18" height="18" fill="#00ff2d"/>
<rect x="273" y="718" width="18" height="18" fill="#00ff00"/>
<rect x="291" y="718" width="18" height="18" fill="#00ff20"/>
<rect x="309" y="718" width="18" height="18" fill="#00ff80"/>
<rect x="327" y="718" width="18" height="18" fill="#00ff9f"/>
<rect x="345" y="718" width="19" height="18" fill="#00ffac"/>
<rect x="364" y="718" width="18" height="18" fill="#00ffcc"/>
<rect x="382" y="718" width="18" height="18" fill="#00efff"/>
<rect x="400" y="718" width="18" height="18" fill="#00ffec"/>
<rect x="418" y="718" width="18" height="18" fill="#00ff9f"/>
<rect x="436" y="718" width="19" height="18" fill="#00ff40"/>
<rect x="455" y="718" width="54" height="18" fill="#00ff0d"/>
<rect x="509" y="718" width="18" height="18" fill="#00ff20"/>
<rect x="527" y="718" width="18" height="18" fill="#40ff00"/>
<rect x="545" y="718" width="19" height="18" fill="#80ff00"/>
<rect x="564" y="718" width="18" height="18" fill="#bfff00"/>
<rect x="582" y="718" width="18" height="18" fill="#dfff00"/>
<rect x="600" y="718" width="18" height="18" fill="#bfff00"/>
<rect x="618" y="718" width="18" height="18" fill="#73ff00"/>
<rect x="636" y="718" width="37" height="18" fill="#53ff00"/>
<rect x="673" y="718" width="36" height="18" fill="#40ff00"/>
<rect x="709" y="718" width="18" height="18" fill="#53ff00"/>
<rect x="727" y="718" width="18" height="18" fill="#73ff00"/>
<rect x="745" y="718" width="19" height="18" fill="#80ff00"/>
<rect x="764" y="718" width="18" height="18" fill="#53ff00"/>
<rect x="782" y="718" width="18" height="18" fill="#33ff00"/>
<rect x="0" y="736" width="18" height="19" fill="#0089ff"/>
<rect x="18" y="736" width="18" height="19" fill="#00a9ff"/>
<rect x="36" y="736" width="19" height="19" fill="#00b9ff"/>
<rect x="55" y="736" width="18" height="19" fill="#00bfff"/>
<rect x="73" y="736" width="18" height="19" fill="#00cfff"/>
<rect x="91" y="736" width="18" height="19" fill="#00d9ff"/>
<rect x="109" y="736" width="18" height="19" fill="#00dfff"/>
<rect x="127" y="736" width="55" height="19" fill="#00e9ff"/>
<rect x="182" y="736" width="18" height="19" fill="#00efff"/>
<rect x="200" y="736" width="18" height="19" fill="#00c9ff"/>
<rect x="218" y="736" width="18" height="19" fill="#00e9ff"/>
<rect x="236" y="736" width="19" height="19" fill="#00ffcc"/>
<rect x="255" y="736" width="18" height="19" fill="#00ff40"/>
<rect x="273" y="736" width="18" height="19" fill="#00ff20"/>
<rect x="291" y="736" width="18" height="19" fill="#00ff4c"/>
<rect x="309" y="736" width="18" height="19" fill="#00ff8c"/>
<rect x="327" y="736" width="18" height="19" fill="#00ff9f"/>
<rect x="345" y="736" width="19" height="19" fill="#00ffac"/>
<rect x="364" y="736" width="18" height="19" fill="#00ffbf"/>
<rect x="382" y="736" width="18" height="19" fill="#00dfff"/>
<rect x="400" y="736" width="18" height="19" fill="#00ffff"/>
<rect x="418" y="736" width="18" height="19" fill="#00ff9f"/>
<rect x="436" y="736" width="19" height="19" fill="#00ff4c"/>
<rect x="455" y="736" width="54" height="19" fill="#00ff20"/>
<rect x="509" y="736" width="18" height="19" fill="#00ff2d"/>
<rect x="527" y="736" width="18" height="19" fill="#40ff00"/>
<rect x="545" y="736" width="19" height="19" fill="#80ff00"/>
<rect x="564" y="736" width="18" height="19" fill="#9fff00"/>
<rect x="582" y="736" width="18" height="19" fill="#bfff00"/>
<rect x="600" y="736" width="18" height="19" fill="#9fff00"/>
<rect x="618" y="736" width="18" height="19" fill="#60ff00"/>
<rect x="636" y="736" width="19" height="19" fill="#53ff00"/>
<rect x="655" y="736" width="18" height="19" fill="#60ff00"/>
<rect x="673" y="736" width="36" height="19" fill="#40ff00"/>
<rect x="709" y="736" width="18" height="19" fill="#53ff00"/>
<rect x="727" y="736" width="18" height="19" fill="#73ff00"/>
<rect x="745" y="736" width="19" height="19" fill="#80ff00"/>
<rect x="764" y="736" width="18" height="19" fill="#60ff00"/>
<rect x="782" y="736" width="18" height="19" fill="#40ff00"/>
<rect x="0" y="755" width="18" height="18" fill="#0089ff"/>
<rect x="18" y="755" width="18" height="18" fill="#00a9ff"/>
<rect x="36" y="755" width="19" height="18" fill="#00b9ff"/>
<rect x="55" y="755" width="18" height="18" fill="#00bfff"/>
<rect x="73" y="755" width="18" height="18" fill="#00cfff"/>
<rect x="91" y="755" width="18" height="18" fill="#00d9ff"/>
<rect x="109" y="755" width="18" height="18" fill="#00dfff"/>
<rect x="127" y="755" width="55" height="18" fill="#00e9ff"/>
<rect x="182" y="755" width="18" height="18" fill="#00efff"/>
<rect x="200" y="755" width="18" height="18" fill="#00afff"/>
<rect x="218" y="755" width="18" height="18" fill="#00cfff"/>
<rect x="236" y="755" width="19" height="18" fill="#00efff"/>
<rect x="255" y="755" width="18" height="18" fill="#00ff8c"/>
<rect x="273" y="755" width="18" height="18" fill="#00ff40"/>
<rect x="291" y="755" width="18" height="18" fill="#00ff60"/>
<rect x="309" y="755" width="18" height="18" fill="#00ff80"/>
<rect x="327" y="755" width="18" height="18" fill="#00ff9f"/>
<rect x="345" y="755" width="19" height="18" fill="#00ffbf"/>
<rect x="364" y="755" width="18" height="18" fill="#00ffcc"/>
<rect x="382" y="755" width="18" height="18" fill="#00cfff"/>
<rect x="400" y="755" width="18" height="18" fill="#00efff"/>
<rect x="418" y="755" width="18" height="18" fill="#00ff9f"/>
<rect x="436" y="755" width="19" height="18" fill="#00ff4c"/>
<rect x="455" y="755" width="54" height="18" fill="#00ff2d"/>
<rect x="509" y="755" width="18" height="18" fill="#00ff40"/>
<rect x="527" y="755" width="18" height="18" fill="#33ff00"/>
<rect x="545" y="755" width="19" height="18" fill="#60ff00"/>
<rect x="564" y="755" width="54" height="18" fill="#80ff00"/>
<rect x="618" y="755" width="18" height="18" fill="#53ff00"/>
<rect x="636" y="755" width="37" height="18" fill="#40ff00"/>
<rect x="673" y="755" width="18" height="18" fill="#33ff00"/>
<rect x="691" y="755" width="18" height="18" fill="#40ff00"/>
<rect x="709" y="755" width="18" height="18" fill="#53ff00"/>
<rect x="727" y="755" width="18" height="18" fill="#60ff00"/>
<rect x="745" y="755" width="19" height="18" fill="#73ff00"/>
<rect x="764" y="755" width="18" height="18" fill="#53ff00"/>
<rect x="782" y="755" width="18" height="18" fill="#40ff00"/>
</g>
<path d="M718.2 36.4L713.2 45M713.4 41.5L713.2 45L716.1 43.1M772.7 36.4L767.1 46.1M767.4 41.8L767.1 46.1L770.7 43.7M790.9 36.4L783 50.1M783.4 42.3L783 50.1L789.6 45.8M700 54.5L696.1 61.1M696.3 58.4L696.1 61.1L698.4 59.7M718.2 54.5L713.4 62.8M713.6 59.5L713.4 62.8L716.2 61M754.5 54.5L749.5 63.2M749.7 59.7L749.5 63.2L752.5 61.3M772.7 54.5L764.7 68.5M765.1 60.4L764.7 68.5L771.5 64.1M790.9 54.5L782.9 68.6M783.3 60.5L782.9 68.6L789.7 64.1M681.8 72.7L678.1 78.3M678.4 76L678.1 78.3L680.2 77.1M700 72.7L695.1 80.9M695.3 77.5L695.1 80.9L697.9 79.1M718.2 72.7L713.4 81M713.6 77.6L713.4 81L716.2 79.2M736.4 72.7L731.6 81M731.8 77.6L731.6 81L734.4 79.2M754.5 72.7L747.3 85.3M747.7 78.6L747.3 85.3L752.9 81.6M772.7 72.7L764.7 86.7M765.1 78.6L764.7 86.7L771.5 82.3M790.9 72.7L783.1 86.8M783.4 78.7L783.1 86.8L789.8 82.3M663.6 90.9L659.8 96.4M660.1 94.1L659.8 96.4L661.9 95.3M681.8 90.9L677 98M677.4 95L677 98L679.6 96.5M700 90.9L694.8 99.4M695.1 96L694.8 99.4L697.8 97.6M718.2 90.9L713.2 99.6M713.4 96.1L713.2 99.6L716.2 97.7M736.4 90.9L730.3 101.7M730.5 96.6L730.3 101.7L734.5 98.9M754.5 90.9L746.7 104.9M747 96.9L746.7 104.9L753.4 100.4M772.7 90.9L765 105.2M765.2 97L765 105.2L771.8 100.5M790.9 90.9L783.5 105.2M783.5 97.1L783.5 105.2L790.1 100.5M681.8 109.1L676 118.1M676.4 114.1L676 118.1L679.4 116.1M700 109.1L694.7 118.4M694.9 114.5L694.7 118.4L698 116.2M718.2 109.1L713.1 118.5M713.2 114.6L713.1 118.5L716.3 116.3M736.4 109.1L729.8 121.5M729.9 115.2L729.8 121.5L735 117.9M754.5 109.1L747.3 123.5M747.3 115.4L747.3 123.5L753.8 118.7M772.7 109.1L765.6 123.8M765.5 115.5L765.6 123.8L772.2 118.8M790.9 109.1L783.9 123.8M783.7 115.5L783.9 123.8L790.5 118.8M663.6 127.3L658.9 134.4M659.3 131.4L658.9 134.4L661.5 132.9M681.8 127.3L676.5 136.8M676.6 132.7L676.5 136.8L679.9 134.6M700 127.3L694.6 137.4M694.7 132.9L694.6 137.4L698.2 134.8M718.2 127.3L712.5 138M712.6 133.1L712.5 138L716.5 135.2M736.4 127.3L729.3 141.1M729.3 133.5L729.3 141.1L735.4 136.7M754.5 127.3L747.6 141.9M747.4 133.7L747.6 141.9L754.1 136.9M772.7 127.3L765.8 142M765.5 133.8L765.8 142L772.3 137M790.9 127.3L784 142.2M783.7 133.8L784 142.2L790.6 137M645.5 145.5L640.7 152.9M641 149.8L640.7 152.9L643.4 151.3M663.6 145.5L658.9 153.7M659 150.4L658.9 153.7L661.7 151.9M681.8 145.5L676.5 155.3M676.6 151.1L676.5 155.3L680 152.9M700 145.5L694.7 155.3M694.8 151.1L694.7 155.3L698.2 152.9M718.2 145.5L712 157M712.1 151.4L712 157L716.6 153.8M736.4 145.5L729.2 159.6M729.2 151.7L729.2 159.6L735.5 155M754.5 145.5L747.6 160.2M747.3 151.9L747.6 160.2L754.1 155.1M772.7 145.5L765.8 160.2M765.5 152L765.8 160.2L772.4 155.1M790.9 145.5L784 160.3M783.7 152L784 160.3L790.6 155.2M645.5 163.6L640 172M640.4 168.5L640 172L643 170.3M663.6 163.6L658.6 172.3M658.8 168.8L658.6 172.3L661.6 170.4M681.8 163.6L676.2 174.1M676.3 169.4L676.2 174.1L680.1 171.4M700 163.6L693.8 175.2M693.9 169.6L693.8 175.2L698.4 172M718.2 163.6L711.4 176.4M711.5 169.7L711.4 176.4L716.9 172.6M736.4 163.6L729.2 177.8M729.2 169.9L729.2 177.8L735.6 173.1M754.5 163.6L747.6 178.4M747.3 170.1L747.6 178.4L754.1 173.3M772.7 163.6L765.8 178.4M765.5 170.1L765.8 178.4L772.4 173.3M790.9 163.6L784 178.5M783.7 170.1L784 178.5L790.6 173.4M627.3 181.8L624.4 185.6M624.7 184L624.4 185.6L625.9 184.9M645.5 181.8L639.7 190M640.2 186.6L639.7 190L642.8 188.4M663.6 181.8L658.4 190.4M658.7 186.9L658.4 190.4L661.4 188.5M681.8 181.8L675.9 192.7M676 187.6L675.9 192.7L680.1 189.8M700 181.8L693.6 194.1M693.6 187.9L693.6 194.1L698.6 190.5M718.2 181.8L711.2 195.5M711.2 188.1L711.2 195.5L717.2 191.1M736.4 181.8L729.3 196.3M729.2 188.2L729.3 196.3L735.8 191.4M754.5 181.8L747.6 196.6M747.3 188.3L747.6 196.6L754.1 191.5M772.7 181.8L765.8 196.6M765.6 188.3L765.8 196.6L772.4 191.5M790.9 181.8L784 196.7M783.7 188.3L784 196.7L790.6 191.5M609.1 200L604.8 205.1M605.3 202.8L604.8 205.1L607 204.2M627.3 200L623.1 205.2M623.6 202.9L623.1 205.2L625.3 204.2M645.5 200L639.9 207.7M640.4 204.4L639.9 207.7L642.9 206.2M663.6 200L658.7 208.1M659 204.8L658.7 208.1L661.5 206.4M681.8 200L676.1 211M676.2 205.9L676.1 211L680.3 208.1M700 200L694 212.7M693.8 206.4L694 212.7L699 208.8M718.2 200L711.6 214.2M711.3 206.5L711.6 214.2L717.7 209.5M736.4 200L729.6 214.6M729.3 206.5L729.6 214.6L736 209.6M754.5 200L747.7 214.8M747.4 206.5L747.7 214.8L754.2 209.7M772.7 200L765.9 214.8M765.6 206.5L765.9 214.8L772.4 209.7M790.9 200L784 214.9M783.7 206.5L784 214.9L790.6 209.7M590.9 218.2L585.1 226.4M585.6 222.9L585.1 226.4L588.2 224.7M609.1 218.2L602.2 226.4M603.1 222.5L602.2 226.4L605.8 224.9M627.3 218.2L621.6 224.9M622.3 221.9L621.6 224.9L624.5 223.7M645.5 218.2L640.4 226.3M640.7 222.9L640.4 226.3L643.3 224.5M663.6 218.2L659.2 226.6M659.2 223.3L659.2 226.6L661.9 224.7M681.8 218.2L676.4 230.1M676.2 224.5L676.4 230.1L680.8 226.6M700 218.2L694.5 231.4M694 224.9L694.5 231.4L699.5 227.2M718.2 218.2L712.1 232.8M711.5 225L712.1 232.8L718.1 227.7M736.4 218.2L729.7 232.9M729.3 224.8L729.7 232.9L736.1 227.8M754.5 218.2L747.7 233M747.4 224.7L747.7 233L754.2 227.9M772.7 218.2L765.9 233M765.6 224.7L765.9 233L772.4 227.9M790.9 218.2L784 233.1M783.7 224.7L784 233.1L790.6 227.9M572.7 236.4L568 243.8M568.3 240.7L568 243.8L570.6 242.2M590.9 236.4L584.4 247.8M584.7 242.2L584.4 247.8L589.1 244.7M609.1 236.4L602.3 246.1M602.9 241.4L602.3 246.1L606.5 243.9M627.3 236.4L621.9 245.6M622.1 241.7L621.9 245.6L625.2 243.5M645.5 236.4L641.2 245.4M641.1 241.9L641.2 245.4L644 243.3M663.6 236.4L659 246M658.9 242.1L659 246L662.1 243.6M681.8 236.4L676.8 248.5M676.4 242.9L676.8 248.5L681.1 244.8M700 236.4L694.6 249.6M694.1 243.1L694.6 249.6L699.6 245.3M718.2 236.4L712.3 250.9M711.6 243.2L712.3 250.9L718.1 245.8M736.4 236.4L729.8 250.8M729.4 242.9L729.8 250.8L735.9 245.9M754.5 236.4L747.7 251.1M747.4 242.9L747.7 251.1L754.2 246M772.7 236.4L765.8 251.1M765.6 242.9L765.8 251.1L772.4 246M790.9 236.4L783.9 251.5M783.6 242.9L783.9 251.5L790.7 246.2M554.5 254.5L549.5 261.8M549.9 258.7L549.5 261.8L552.2 260.3M572.7 254.5L565.3 265.3M566 259.8L565.3 265.3L570.2 262.7M590.9 254.5L584.5 266.8M584.5 260.6L584.5 266.8L589.5 263.2M609.1 254.5L603.6 267M603.3 261L603.6 267L608.3 263.2M627.3 254.5L621.2 266.2M621.2 260.5L621.2 266.2L625.7 262.9M645.5 254.5L640 265.7M639.9 260.6L640 265.7L644 262.6M663.6 254.5L658.1 266.4M657.9 260.8L658.1 266.4L662.5 263M681.8 254.5L676.4 267.5M675.9 261.2L676.4 267.5L681.3 263.4M700 254.5L694.6 268M694 261.3L694.6 268L699.6 263.6M718.2 254.5L712.4 268.8M711.7 261.4L712.4 268.8L718 263.9M736.4 254.5L729.9 269M729.5 261.1L729.9 269L736 264.1M754.5 254.5L747.7 269.3M747.4 261.1L747.7 269.3L754.2 264.2M772.7 254.5L765.9 269.3M765.6 261.1L765.9 269.3L772.4 264.2M790.9 254.5L784.1 269.5M783.7 261.1L784.1 269.5L790.6 264.3M209.1 272.7L217.9 272.7M215.1 274.1L217.9 272.7L215.1 271.3M554.5 272.7L545.5 285.8M546.6 278L545.5 285.8L552.4 282M572.7 272.7L563.9 285.7M564.9 278L563.9 285.7L570.7 282M590.9 272.7L584 285.3M584.2 278.7L584 285.3L589.4 281.6M609.1 272.7L603 285.4M602.8 279L603 285.4L608 281.5M627.3 272.7L621.7 285.4M621.3 279.2L621.7 285.4L626.5 281.5M645.5 272.7L641 285.6M640.2 279.6L641 285.6L645.3 281.4M663.6 272.7L659.2 285.9M658.3 279.7L659.2 285.9L663.6 281.5M681.8 272.7L676.5 286.5M675.8 279.6L676.5 286.5L681.7 281.9M700 272.7L694.3 287M693.6 279.6L694.3 287L699.9 282.1M718.2 272.7L712.3 287.2M711.6 279.6L712.3 287.2L718.1 282.2M736.4 272.7L730 287.6M729.5 279.5L730 287.6L736.3 282.4M754.5 272.7L747.8 287.6M747.5 279.3L747.8 287.6L754.3 282.4M772.7 272.7L766 287.6M765.6 279.3L766 287.6L772.5 282.4M790.9 272.7L784.2 287.6M783.8 279.3L784.2 287.6L790.7 282.4M209.1 290.9L217.9 290.9M215.1 292.3L217.9 290.9L215.1 289.5M227.3 290.9L233.5 290.9M231.6 291.9L233.5 290.9L231.6 289.9M245.5 290.9L250.8 289M249.5 290.4L250.8 289L248.8 288.7M263.6 290.9L267.7 286.9M267.1 288.8L267.7 286.9L265.8 287.5M281.8 290.9L283.5 284.5M284 286.8L283.5 284.5L282 286.2M536.4 290.9L530.2 305.5M529.6 297.7L530.2 305.5L536.2 300.4M554.5 290.9L547 305.8M547 297.2L547 305.8L554 300.7M572.7 290.9L565.7 304.6M565.7 297.2L565.7 304.6L571.8 300.2M590.9 290.9L585 304.1M584.6 297.4L585 304.1L590.2 299.9M609.1 290.9L604 304.3M603.3 297.8L604 304.3L608.9 299.9M627.3 290.9L623.7 304.8M622.3 298.4L623.7 304.8L628 299.9M645.5 290.9L642.5 304.6M640.9 298.5L642.5 304.6L646.5 299.7M663.6 290.9L660.5 305.1M658.8 298.6L660.5 305.1L664.7 299.9M681.8 290.9L676.3 305.3M675.5 297.9L676.3 305.3L681.9 300.3M700 290.9L694.1 305.4M693.5 297.8L694.1 305.4L699.9 300.4M718.2 290.9L712.3 305.6M711.6 297.8L712.3 305.6L718.2 300.4M736.4 290.9L730.3 305.8M729.6 297.8L730.3 305.8L736.4 300.5M754.5 290.9L748.1 305.9M747.6 297.6L748.1 305.9L754.5 300.6M772.7 290.9L766.1 305.8M765.7 297.5L766.1 305.8L772.5 300.6M790.9 290.9L784.2 305.8M783.8 297.5L784.2 305.8L790.7 300.6M227.3 309.1L230 306.4M229.5 307.7L230 306.4L228.7 306.8M245.5 309.1L249.8 305.4M249 307.3L249.8 305.4L247.9 305.9M263.6 309.1L267.1 299.7M267.5 303.2L267.1 299.7L264.5 302.1M281.8 309.1L283.8 298.1M285 302.1L283.8 298.1L281.2 301.5M300 309.1L306 298.8M305.7 303.5L306 298.8L302 301.4M318.2 309.1L326.9 300.3M325.4 305.2L326.9 300.3L322.1 301.9M500 309.1L499.5 314.8M498.8 312.9L499.5 314.8L500.6 313.1M518.2 309.1L513.4 320.5M513 315.5L513.4 320.5L517.3 317.2M536.4 309.1L530.1 323.6M529.6 315.8L530.1 323.6L536.1 318.6M554.5 309.1L549.2 323.2M548.4 316L549.2 323.2L554.5 318.4M572.7 309.1L567.5 323.5M566.6 316.2L567.5 323.5L572.9 318.4M590.9 309.1L586.3 323.1M585.2 316.3L586.3 323.1L591.2 318.2M609.1 309.1L605.2 323M603.9 316.5L605.2 323L609.7 318.1M627.3 309.1L624 323.5M622.3 316.8L624 323.5L628.4 318.2M645.5 309.1L642.4 323.5M640.6 316.8L642.4 323.5L646.7 318.2M663.6 309.1L660.4 323.7M658.6 316.8L660.4 323.7L664.9 318.2M681.8 309.1L676.3 323.8M675.4 316.1L676.3 323.8L682 318.6M700 309.1L694.1 323.8M693.4 316L694.1 323.8L700 318.6M718.2 309.1L712.2 324.1M711.5 316L712.2 324.1L718.3 318.7M736.4 309.1L730.4 324.1M729.6 316L730.4 324.1L736.5 318.7M754.5 309.1L747.9 324M747.5 315.7L747.9 324L754.4 318.8M772.7 309.1L765.9 323.9M765.6 315.6L765.9 323.9L772.4 318.8M790.9 309.1L784.1 323.9M783.8 315.6L784.1 323.9L790.6 318.8M263.6 327.3L266.3 317.6M267 321.1L266.3 317.6L263.9 320.2M281.8 327.3L283.8 316.2M285 320.3L283.8 316.2L281.2 319.6M300 327.3L309.4 319.2M307.5 323.9L309.4 319.2L304.5 320.4M318.2 327.3L329.8 320.2M326.7 325.3L329.8 320.2L323.8 320.7M336.4 327.3L348.9 320.9M345.2 326L348.9 320.9L342.6 320.9M354.5 327.3L367.2 320.6M363.4 326L367.2 320.6L360.7 320.7M372.7 327.3L385.8 317.8M382.1 325L385.8 317.8L377.8 319.1M390.9 327.3L403.3 316.7M400.1 324.3L403.3 316.7L395.2 318.6M409.1 327.3L417.6 314.1M416.8 321.8L417.6 314.1L410.9 318M427.3 327.3L440.5 319.6M436.5 325.8L440.5 319.6L433.2 320M445.5 327.3L458.3 318.8M454.6 325.3L458.3 318.8L450.9 319.6M463.6 327.3L477.4 321.8M472.8 327L477.4 321.8L470.5 321.2M481.8 327.3L483 328.8M482.4 328.5L483 328.8L482.8 328.1M500 327.3L495.7 335M495.8 331.9L495.7 335L498.3 333.2M518.2 327.3L510.8 338.7M511.4 332.7L510.8 338.7L516 335.7M536.4 327.3L530 340.8M529.8 333.7L530 340.8L535.6 336.5M554.5 327.3L549.4 341.5M548.5 334.3L549.4 341.5L554.7 336.6M572.7 327.3L567.6 341.8M566.6 334.4L567.6 341.8L573 336.6M590.9 327.3L586.8 342.1M585.3 334.8L586.8 342.1L591.9 336.6M609.1 327.3L605.9 342.3M604 335.1L605.9 342.3L610.6 336.5M627.3 327.3L624.2 341.9M622.3 335.1L624.2 341.9L628.6 336.4M645.5 327.3L642.2 342.2M640.3 335.1L642.2 342.2L646.9 336.5M663.6 327.3L659.8 342.5M658.1 335L659.8 342.5L664.9 336.7M681.8 327.3L676.8 342.3M675.6 334.5L676.8 342.3L682.4 336.8M700 327.3L694.4 342.4M693.5 334.4L694.4 342.4L700.4 336.9M718.2 327.3L712.6 342.4M711.7 334.4L712.6 342.4L718.6 336.9M736.4 327.3L730.5 342.3M729.7 334.2L730.5 342.3L736.6 336.9M754.5 327.3L747.8 342M747.5 333.9L747.8 342L754.3 336.9M772.7 327.3L765.8 342M765.6 333.8L765.8 342L772.4 337M790.9 327.3L784 342M783.7 333.8L784 342L790.5 337M300 345.5L308.6 338.2M306.9 342.2L308.6 338.2L304.4 339.2M318.2 345.5L329.3 336.9M326.6 342.6L329.3 336.9L323.1 338.1M336.4 345.5L348.7 337.8M345.2 343.5L348.7 337.8L342 338.4M354.5 345.5L366.3 337M363.2 343L366.3 337L359.7 338M372.7 345.5L381.2 333.4M380.2 340.2L381.2 333.4L375.1 336.6M390.9 345.5L399 331.5M398.5 339.6L399 331.5L392.2 335.9M409.1 345.5L417 331.7M416.6 339.6L417 331.7L410.4 336M427.3 345.5L440.8 339.1M436.5 344.7L440.8 339.1L433.7 338.9M445.5 345.5L458.7 340.6M454.3 345.3L458.7 340.6L452.4 339.9M463.6 345.5L469.9 341.1M468.6 343.4L469.9 341.1L467.2 341.5M481.8 345.5L483.2 347.9M482.4 347.4L483.2 347.9L483.2 346.9M500 345.5L493.8 351.7M494.7 348.7L493.8 351.7L496.7 350.7M518.2 345.5L508.6 355.1M510.4 349.4L508.6 355.1L514.3 353.2M536.4 345.5L530.4 359.3M530 352.1L530.4 359.3L535.9 354.7M554.5 345.5L549.4 360M548.4 352.6L549.4 360L554.8 354.8M572.7 345.5L568.2 360.5M566.8 352.9L568.2 360.5L573.5 354.9M590.9 345.5L588.1 360.9M585.9 353.5L588.1 360.9L592.7 354.7M609.1 345.5L607 361.4M604.3 353.8L607 361.4L611.6 354.7M627.3 345.5L625.1 361.2M622.5 353.7L625.1 361.2L629.6 354.7M645.5 345.5L642.5 361M640.3 353.5L642.5 361L647.3 354.8M663.6 345.5L659.6 361M657.8 353.1L659.6 361L664.9 355M681.8 345.5L676.9 360.8M675.6 352.8L676.9 360.8L682.6 355M700 345.5L695 361M693.7 352.8L695 361L700.8 355.1M718.2 345.5L713.1 360.9M711.8 352.8L713.1 360.9L719 355.1M736.4 345.5L730.9 360.8M729.8 352.6L730.9 360.8L736.9 355.1M754.5 345.5L748 360.4M747.5 352.1L748 360.4L754.4 355.1M772.7 345.5L765.9 360.2M765.6 352L765.9 360.2L772.4 355.1M790.9 345.5L784.1 360.2M783.8 352L784.1 360.2L790.6 355.1M300 363.6L309.2 357.2M307.2 361L309.2 357.2L305 357.8M318.2 363.6L329.1 355.5M326.4 360.9L329.1 355.5L323.2 356.5M336.4 363.6L347.5 355.1M344.8 360.8L347.5 355.1L341.3 356.3M354.5 363.6L364.9 354.1M362.7 360.1L364.9 354.1L358.8 355.8M372.7 363.6L381.6 353M380.2 359L381.6 353L375.9 355.4M390.9 363.6L400.1 352.7M398.6 359.1L400.1 352.7L394.1 355.2M409.1 363.6L417.9 354.9M416.3 359.7L417.9 354.9L413 356.4M427.3 363.6L435.9 356.4M434.2 360.4L435.9 356.4L431.7 357.4M445.5 363.6L454.9 360.2M452.5 362.8L454.9 360.2L451.4 359.8M463.6 363.6L470.8 361M469 363L470.8 361L468.1 360.7M481.8 363.6L485.6 363.6M484.4 364.2L485.6 363.6L484.4 363M500 363.6L501.8 369M500.4 367.6L501.8 369L502.1 367.1M518.2 363.6L512 374.4M512.2 369.3L512 374.4L516.2 371.6M536.4 363.6L532.6 377.6M531.2 371.1L532.6 377.6L537.1 372.7M554.5 363.6L551.7 378.7M549.6 371.6L551.7 378.7L556.2 372.8M572.7 363.6L570.4 379.3M567.9 371.9L570.4 379.3L574.9 372.9M590.9 363.6L589.2 379.4M586.4 372L589.2 379.4L593.5 372.8M609.1 363.6L607.3 380.5M604.2 372.2L607.3 380.5L612.2 373M627.3 363.6L625.6 380.2M622.5 372.2L625.6 380.2L630.2 373M645.5 363.6L643.3 380.2M640.4 372.1L643.3 380.2L648.2 373.1M663.6 363.6L659.7 379.8M657.7 371.5L659.7 379.8L665.3 373.3M681.8 363.6L676.9 379.2M675.5 371L676.9 379.2L682.7 373.3M700 363.6L695 379.1M693.7 371L695 379.1L700.8 373.3M718.2 363.6L713.1 379.3M711.8 371L713.1 379.3L719 373.3M736.4 363.6L731.2 379.5M729.9 371L731.2 379.5L737.3 373.4M754.5 363.6L749 379M748 370.8L749 379L755 373.3M772.7 363.6L766.8 378.8M766 370.6L766.8 378.8L773 373.3M790.9 363.6L784.9 378.8M784.1 370.6L784.9 378.8L791.1 373.3M281.8 381.8L288.4 380.6M286.5 382L288.4 380.6L286.1 380M300 381.8L311 379.6M307.6 382.3L311 379.6L306.9 378.5M318.2 381.8L328.7 375.3M326.1 379.6L328.7 375.3L323.6 375.7M336.4 381.8L347.5 374M344.7 379.3L347.5 374L341.6 374.8M354.5 381.8L364.6 373.4M362.4 378.5L364.6 373.4L359.1 374.6M372.7 381.8L381.6 373.1M380 378L381.6 373.1L376.7 374.7M390.9 381.8L399.5 372.8M398 377.7L399.5 372.8L394.7 374.5M409.1 381.8L417.9 373.1M416.3 377.9L417.9 373.1L413 374.6M427.3 381.8L433.7 372.6M433.1 376.9L433.7 372.6L429.9 374.6M445.5 381.8L453.1 377.4M451.4 380L453.1 377.4L450 377.6M463.6 381.8L471.2 381.8M468.9 383L471.2 381.8L468.9 380.6M481.8 381.8L488.4 382.4M486.3 383.3L488.4 382.4L486.5 381.2M500 381.8L504 385.8M502.1 385.2L504 385.8L503.4 384M518.2 381.8L516 394M514.5 389.2L516 394L519.1 390M536.4 381.8L534.6 396.2M532.3 389.9L534.6 396.2L538.3 390.7M554.5 381.8L552.4 397.3M549.9 390L552.4 397.3L556.8 391M572.7 381.8L570.9 398M568 390.3L570.9 398L575.5 391.1M590.9 381.8L589.4 398M586.3 390.4L589.4 398L593.8 391.1M609.1 381.8L607.3 399.3M603.9 390.4L607.3 399.3L612.4 391.3M627.3 381.8L625.5 399M622.2 390.4L625.5 399L630.5 391.3M645.5 381.8L643.8 399M640.4 390.5L643.8 399L648.8 391.3M663.6 381.8L661 398.5M658.3 390.1L661 398.5L666.2 391.4M681.8 381.8L677.3 397.9M675.6 389.4L677.3 397.9L683.1 391.5M700 381.8L695 397.7M693.6 389.2L695 397.7L701 391.6M718.2 381.8L713.3 397.8M711.8 389.3L713.3 397.8L719.3 391.6M736.4 381.8L731.7 397.8M730.1 389.4L731.7 397.8L737.6 391.5M754.5 381.8L749.7 397.4M748.3 389.2L749.7 397.4L755.5 391.5M772.7 381.8L767.7 397.3M766.4 389.1L767.7 397.3L773.5 391.5M790.9 381.8L785.9 397.1M784.7 389.1L785.9 397.1L791.7 391.4M281.8 400L289.1 397.7M287.2 399.6L289.1 397.7L286.4 397.3M300 400L309.4 396.5M307 399.1L309.4 396.5L305.9 396.1M318.2 400L328.3 392.9M326 397.4L328.3 392.9L323.3 393.6M336.4 400L346.6 393M344.2 397.5L346.6 393L341.6 393.6M354.5 400L364.6 392.8M362.3 397.3L364.6 392.8L359.6 393.6M372.7 400L382.5 393.1M380.3 397.3L382.5 393.1L377.8 393.8M390.9 400L399.8 393.2M398 397.1L399.8 393.2L395.7 394M409.1 400L414.9 393.3M414.1 396.3L414.9 393.3L412 394.5M427.3 400L432.3 391.3M432.1 394.8L432.3 391.3L429.3 393.2M445.5 400L453.1 393.6M451.7 396.8L453.1 393.6L449.7 394.4M463.6 400L473.5 398.3M470.7 400.4L473.5 398.3L470.1 397.2M481.8 400L491.7 401.7M488.3 402.8L491.7 401.7L488.9 399.6M500 400L509.7 405.6M505.4 405.4L509.7 405.6L507.4 402M518.2 400L520.3 412.2M517.3 408.2L520.3 412.2L521.8 407.3M536.4 400L534.3 414.4M532.2 408L534.3 414.4L538.2 408.9M554.5 400L553.2 416.1M550.1 408.6L553.2 416.1L557.5 409.2M572.7 400L571.3 416.9M567.9 408.7L571.3 416.9L575.9 409.3M590.9 400L589.4 417.5M585.9 408.7L589.4 417.5L594.4 409.5M609.1 400L607.4 418.1M603.7 408.8L607.4 418.1L612.8 409.6M627.3 400L625.8 417.9M622.1 408.8L625.8 417.9L631 409.5M645.5 400L644.2 417.5M640.5 408.8L644.2 417.5L649.1 409.4M663.6 400L662.3 417.2M658.8 408.7L662.3 417.2L667.1 409.4M681.8 400L679.3 416.7M676.5 408.3L679.3 416.7L684.5 409.5M700 400L696 416.4M694 407.8L696 416.4L701.8 409.7M718.2 400L713.8 416.3M712 407.7L713.8 416.3L719.7 409.8M736.4 400L732 416.3M730.1 407.7L732 416.3L737.9 409.8M754.5 400L749.9 416M748.3 407.5L749.9 416L755.8 409.7M772.7 400L767.7 415.5M766.4 407.3L767.7 415.5L773.5 409.7M790.9 400L785.9 415.5M784.6 407.3L785.9 415.5L791.7 409.7M300 418.2L308.3 415.1M306.2 417.4L308.3 415.1L305.2 414.8M318.2 418.2L326.9 413.3M325 416.2L326.9 413.3L323.4 413.5M336.4 418.2L342.9 414.2M341.5 416.5L342.9 414.2L340.2 414.4M354.5 418.2L362 413.5M360.4 416.1L362 413.5L358.9 413.8M372.7 418.2L381 412.5M379.3 415.6L381 412.5L377.5 413M390.9 418.2L400.1 411.8M398.1 415.5L400.1 411.8L395.9 412.4M409.1 418.2L417.6 409.8M416.1 414.3L417.6 409.8L413.1 411.3M427.3 418.2L436 409.4M434.5 414.2L436 409.4L431.2 411M445.5 418.2L453 407.4M452.2 413L453 407.4L448 410.1M463.6 418.2L474.8 410.4M472 415.7L474.8 410.4L468.9 411.2M481.8 418.2L495.2 415.8M490.4 419.4L495.2 415.8L489.5 414.1M500 418.2L513 422.9M506.9 423.7L513 422.9L508.8 418.4M518.2 418.2L525 430M520 426.7L525 430L524.7 424M536.4 418.2L539.2 432.9M534.9 427.3L539.2 432.9L541.2 426M554.5 418.2L555 434.3M551.1 427.2L555 434.3L558.5 427M572.7 418.2L572 435.7M568 427.1L572 435.7L576.6 427.5M590.9 418.2L589.8 436.9M585.7 427.5L589.8 436.9L595 428M609.1 418.2L608.4 436.7M604.1 427.5L608.4 436.7L613.4 427.8M627.3 418.2L626.2 436.3M622.2 427.1L626.2 436.3L631.2 427.7M645.5 418.2L644.2 436.3M640.3 427.1L644.2 436.3L649.3 427.7M663.6 418.2L662.5 434.8M659.1 426.9L662.5 434.8L666.9 427.4M681.8 418.2L680.3 434.8M677.1 426.8L680.3 434.8L684.9 427.5M700 418.2L696.7 434.8M694.3 426.3L696.7 434.8L702.2 427.8M718.2 418.2L713.9 434.5M712 425.9L713.9 434.5L719.8 427.9M736.4 418.2L732 434.3M730.3 425.9L732 434.3L737.8 427.9M754.5 418.2L750.2 434.3M748.4 425.8L750.2 434.3L756 427.9M772.7 418.2L767.8 433.7M766.5 425.6L767.8 433.7L773.6 427.8M790.9 418.2L785.9 433.7M784.6 425.5L785.9 433.7L791.8 427.8M336.4 436.4L341.3 433.5M340.2 435.2L341.3 433.5L339.3 433.6M354.5 436.4L360.4 433.2M359.1 435.1L360.4 433.2L358.1 433.2M372.7 436.4L380.7 432.6M378.8 435.1L380.7 432.6L377.6 432.5M390.9 436.4L400.6 431.7M398.2 434.9L400.6 431.7L396.6 431.6M409.1 436.4L418 429.6M416.2 433.4L418 429.6L413.8 430.3M427.3 436.4L435.6 428.9M434.1 432.9L435.6 428.9L431.5 430M445.5 436.4L455.6 429.2M453.2 433.7L455.6 429.2L450.6 429.9M463.6 436.4L475.8 430.2M472.2 435L475.8 430.2L469.8 430.2M481.8 436.4L494.2 437.4M489.5 439.3L494.2 437.4L489.9 434.7M500 436.4L509.3 440M505.8 440.3L509.3 440L507 437.4M518.2 436.4L523.6 447.5M519.6 444.4L523.6 447.5L523.7 442.4M536.4 436.4L535.9 450.9M533 444.8L535.9 450.9L539.1 445M554.5 436.4L554 452.5M550.6 445.1L554 452.5L557.9 445.4M572.7 436.4L572.7 454.5M568.2 445.6L572.7 454.5L577.2 445.6M590.9 436.4L591.7 455.1M586.6 446.1L591.7 455.1L596 445.7M609.1 436.4L609.7 453.9M605.1 445.6L609.7 453.9L613.7 445.3M627.3 436.4L626.6 453.6M622.8 445.3L626.6 453.6L631.1 445.6M645.5 436.4L644.3 453.2M640.8 445.1L644.3 453.2L648.9 445.6M663.6 436.4L662.5 453.6M658.9 445.2L662.5 453.6L667.2 445.7M681.8 436.4L680.4 453.6M676.9 445.1L680.4 453.6L685.3 445.8M700 436.4L697.1 453.4M694.4 444.6L697.1 453.4L702.6 446M718.2 436.4L714 453.1M711.9 444.2L714 453.1L720 446.2M736.4 436.4L731.8 453.3M729.9 444.1L731.8 453.3L738.2 446.3M754.5 436.4L750.1 453.1M748.2 444.1L750.1 453.1L756.3 446.2M772.7 436.4L768.4 452.7M766.5 444.1L768.4 452.7L774.3 446.1M790.9 436.4L786.6 452.5M784.8 444L786.6 452.5L792.4 446.1M336.4 454.5L341.3 451.7M340.2 453.4L341.3 451.7L339.3 451.8M354.5 454.5L359.6 451.9M358.4 453.6L359.6 451.9L357.6 452M372.7 454.5L379.6 451.3M378 453.4L379.6 451.3L376.9 451.2M390.9 454.5L399.9 450.2M397.8 453L399.9 450.2L396.4 450.1M409.1 454.5L418.5 449.4M416.3 452.6L418.5 449.4L414.5 449.5M427.3 454.5L436.5 449.1M434.4 452.4L436.5 449.1L432.6 449.3M445.5 454.5L455.6 448.3M453.1 452.3L455.6 448.3L450.9 448.7M463.6 454.5L476.6 452.5M472 455.8L476.6 452.5L471.3 450.8M481.8 454.5L492.9 455.8M489 457.3L492.9 455.8L489.4 453.5M500 454.5L508.2 457.7M505.1 458L508.2 457.7L506.1 455.4M518.2 454.5L523.3 464.5M519.9 462L523.3 464.5L523.3 460.2M536.4 454.5L537.9 468.8M534.3 463.3L537.9 468.8L540.3 462.6M554.5 454.5L554.7 470.7M550.9 463.5L554.7 470.7L558.3 463.4M572.7 454.5L573.5 473.1M568.5 464.2L573.5 473.1L577.7 463.8M590.9 454.5L592 473.7M586.7 464.6L592 473.7L596.3 464M609.1 454.5L610.4 473M605.2 464.3L610.4 473L614.4 463.6M627.3 454.5L627.9 472.7M623.1 464L627.9 472.7L632.1 463.6M645.5 454.5L645.1 472.5M640.8 463.6L645.1 472.5L649.7 463.8M663.6 454.5L662.9 472.7M658.7 463.6L662.9 472.7L667.8 464M681.8 454.5L680.5 472.7M676.6 463.5L680.5 472.7L685.7 464.1M700 454.5L697.7 472.6M694.3 463.2L697.7 472.6L703.3 464.3M718.2 454.5L714.8 472.4M712 462.8L714.8 472.4L720.9 464.5M736.4 454.5L732.2 472.6M729.7 462.7L732.2 472.6L738.8 464.8M754.5 454.5L750.7 472.3M748.2 462.6L750.7 472.3L757 464.6M772.7 454.5L769.4 472.1M766.7 462.7L769.4 472.1L775.4 464.4M790.9 454.5L787.8 471.5M785.1 462.7L787.8 471.5L793.4 464.2M336.4 472.7L340.9 471.3M339.7 472.5L340.9 471.3L339.3 471M354.5 472.7L360.9 470.7M359.2 472.3L360.9 470.7L358.6 470.3M372.7 472.7L380.9 469.4M378.9 471.7L380.9 469.4L377.8 469.1M390.9 472.7L399.7 469M397.5 471.6L399.7 469L396.4 468.8M409.1 472.7L418.5 469.4M416.1 472L418.5 469.4L415.1 469M427.3 472.7L437 470.6M434.3 472.8L437 470.6L433.7 469.7M445.5 472.7L456.6 471.8M453 474.1L456.6 471.8L452.7 470.2M463.6 472.7L475.4 474.4M471 475.9L475.4 474.4L471.6 471.7M481.8 472.7L491.7 474.5M488.3 475.5L491.7 474.5L488.9 472.4M500 472.7L508.3 475.7M505.2 476.1L508.3 475.7L506.2 473.5M518.2 472.7L522.3 483.2M519.1 480.3L522.3 483.2L522.7 478.9M536.4 472.7L537.8 487.2M534.2 481.5L537.8 487.2L540.2 480.9M554.5 472.7L556.9 488.9M552.1 482.1L556.9 488.9L559.5 481M572.7 472.7L572.9 491.5M568.1 482.3L572.9 491.5L577.5 482.3M590.9 472.7L591.1 492.1M586.2 482.7L591.1 492.1L595.8 482.6M609.1 472.7L609.9 491.5M604.8 482.5L609.9 491.5L614.2 482.1M627.3 472.7L628.5 491.5M623.2 482.6L628.5 491.5L632.6 482M645.5 472.7L646.3 491.2M641.3 482.4L646.3 491.2L650.5 481.9M663.6 472.7L663.2 491.5M658.7 482.2L663.2 491.5L668.1 482.4M681.8 472.7L680 491.8M676.1 482L680 491.8L685.6 482.9M700 472.7L697.8 491.4M694.2 481.7L697.8 491.4L703.5 482.8M718.2 472.7L715.8 491.4M712.3 481.6L715.8 491.4L721.6 482.8M736.4 472.7L733.3 491.6M730.1 481.6L733.3 491.6L739.5 483.1M754.5 472.7L751.3 491.2M748.3 481.3L751.3 491.2L757.5 483M772.7 472.7L769.5 491M766.5 481.2L769.5 491L775.6 482.8M790.9 472.7L787.8 490.4M784.9 481L787.8 490.4L793.7 482.5M318.2 490.9L322.8 490M321.5 491L322.8 490L321.2 489.5M336.4 490.9L342.9 489.7M341.1 491.2L342.9 489.7L340.7 489.1M354.5 490.9L362 489.5M359.9 491.1L362 489.5L359.5 488.8M372.7 490.9L382 488.6M379.4 490.8L382 488.6L378.7 487.9M390.9 490.9L400.6 488.4M398 490.7L400.6 488.4L397.2 487.6M409.1 490.9L419 489.6M416.1 491.6L419 489.6L415.7 488.4M427.3 490.9L437.3 490.8M434.2 492.4L437.3 490.8L434.1 489.2M445.5 490.9L456.2 490.9M452.7 492.7L456.2 490.9L452.7 489.1M463.6 490.9L474.8 491.9M470.8 493.5L474.8 491.9L471.2 489.6M481.8 490.9L491.7 492.6M488.3 493.7L491.7 492.6L488.9 490.5M500 490.9L509.2 493.4M505.9 494.1L509.2 493.4L506.7 491.1M518.2 490.9L523.1 501M519.7 498.4L523.1 501L523.1 496.7M536.4 490.9L538.3 505.3M534.5 499.8L538.3 505.3L540.5 499M554.5 490.9L557.8 507.5M552.3 500.5L557.8 507.5L560.2 499M572.7 490.9L574.3 510M568.8 501L574.3 510L578.3 500.3M590.9 490.9L591.2 510.3M586.2 500.9L591.2 510.3L595.9 500.7M609.1 490.9L609.2 510.3M604.3 500.8L609.2 510.3L614 500.8M627.3 490.9L628.2 510.3M622.9 501L628.2 510.3L632.6 500.5M645.5 490.9L646.7 510M641.3 501L646.7 510L650.9 500.3M663.6 490.9L662.8 509M658.7 500L662.8 509L667.7 500.4M681.8 490.9L679.7 508.9M676.2 499.6L679.7 508.9L685.2 500.6M700 490.9L697.7 509.3M694.3 499.7L697.7 509.3L703.4 500.9M718.2 490.9L715.9 509.6M712.4 499.8L715.9 509.6L721.7 501M736.4 490.9L733.8 509.9M730.3 499.9L733.8 509.9L739.8 501.2M754.5 490.9L751.3 510M748.1 499.8L751.3 510L757.7 501.5M772.7 490.9L769.4 510M766.2 499.8L769.4 510L775.8 501.5M790.9 490.9L787.6 509.8M784.5 499.7L787.6 509.8L793.9 501.4M300 509.1L307.3 507.1M305.4 508.9L307.3 507.1L304.7 506.6M318.2 509.1L326.8 507.4M324.4 509.3L326.8 507.4L323.9 506.6M336.4 509.1L345.7 507.4M343.1 509.4L345.7 507.4L342.6 506.5M354.5 509.1L364.4 507.3M361.6 509.4L364.4 507.3L361 506.3M372.7 509.1L383.2 507M380.1 509.4L383.2 507L379.4 505.9M390.9 509.1L401.5 507.6M398.3 509.8L401.5 507.6L397.8 506.3M409.1 509.1L419.8 508.8M416.3 510.7L419.8 508.8L416.3 507.1M427.3 509.1L438 509.3M434.4 511L438 509.3L434.5 507.4M445.5 509.1L456.7 509.1M452.9 511L456.7 509.1L452.9 507.2M463.6 509.1L474.8 509.6M470.9 511.4L474.8 509.6L471.1 507.5M481.8 509.1L492.2 511.7M488.4 512.6L492.2 511.7L489.2 509.1M500 509.1L509 515M505.1 514.5L509 515L507 511.5M518.2 509.1L523.7 520.2M519.6 517.2L523.7 520.2L523.8 515.1M536.4 509.1L542.3 523.3M536.6 518.5L542.3 523.3L542.9 515.8M554.5 509.1L562.1 525.3M554.4 519.3L562.1 525.3L562.5 515.5M572.7 509.1L577.9 528.4M570.5 520.2L577.9 528.4L580.2 517.7M590.9 509.1L591.9 529.7M586.3 519.9L591.9 529.7L596.6 519.4M609.1 509.1L609.3 529.7M604 519.7L609.3 529.7L614.4 519.6M627.3 509.1L628.6 529.4M622.9 519.8L628.6 529.4L633 519.1M645.5 509.1L647.2 528.8M641.4 519.6L647.2 528.8L651.3 518.7M663.6 509.1L663 527.2M658.8 518.2L663 527.2L667.8 518.5M681.8 509.1L679.7 527.5M676.1 517.9L679.7 527.5L685.3 519M700 509.1L697.7 528.1M694.1 518.2L697.7 528.1L703.6 519.4M718.2 509.1L715.9 528.4M712.2 518.3L715.9 528.4L721.8 519.5M736.4 509.1L734 528.7M730.2 518.5L734 528.7L740 519.7M754.5 509.1L751.6 528.3M748.3 518.1L751.6 528.3L757.8 519.6M772.7 509.1L769.5 528M766.4 517.9L769.5 528L775.8 519.5M790.9 509.1L787.7 528M784.5 517.9L787.7 528L794 519.5M281.8 527.3L291.1 523.5M288.8 526.1L291.1 523.5L287.6 523.2M300 527.3L310.7 523.9M307.6 526.9L310.7 523.9L306.5 523.2M318.2 527.3L331.3 523.8M326.9 527.8L331.3 523.8L325.5 522.5M336.4 527.3L349.9 524M345.1 528.1L349.9 524L343.8 522.6M354.5 527.3L368 524.1M363.3 528.1L368 524.1L362 522.6M372.7 527.3L386.1 524.6M381.4 528.3L386.1 524.6L380.3 523M390.9 527.3L403.3 526.4M398.9 529L403.3 526.4L398.6 524.4M409.1 527.3L421.5 528.1M416.8 530.1L421.5 528.1L417.1 525.5M427.3 527.3L439.1 528.7M434.7 530.3L439.1 528.7L435.2 526.1M445.5 527.3L457.3 528.7M452.8 530.4L457.3 528.7L453.4 526.1M463.6 527.3L475.8 529.8M470.9 531.1L475.8 529.8L471.8 526.6M481.8 527.3L492.4 532.9M487.6 532.8L492.4 532.9L489.6 529M500 527.3L505.9 536.8M502.3 534.6L505.9 536.8L505.5 532.6M518.2 527.3L523.7 539.2M519.3 535.7L523.7 539.2L523.9 533.5M536.4 527.3L543.1 541.4M537 536.7L543.1 541.4L543.3 533.7M554.5 527.3L561.7 544M554 537.6L561.7 544L562.4 534M572.7 527.3L577.8 546M570.7 538.1L577.8 546L580 535.5M590.9 527.3L594.6 546.9M587.9 538.2L594.6 546.9L597.7 536.4M609.1 527.3L611.8 548.1M605.3 538.6L611.8 548.1L615.7 537.2M627.3 527.3L630.1 547.7M623.6 538.4L630.1 547.7L633.8 537M645.5 527.3L648.1 547.1M641.8 538L648.1 547.1L651.7 536.7M663.6 527.3L664 546M659.1 536.9L664 546L668.5 536.8M681.8 527.3L680.2 546.4M676.2 536.6L680.2 546.4L685.8 537.4M700 527.3L697.9 546.6M694.1 536.6L697.9 546.6L703.7 537.6M718.2 527.3L716.1 546.6M712.3 536.6L716.1 546.6L721.9 537.6M736.4 527.3L734.4 546.6M730.5 536.6L734.4 546.6L740.2 537.6M754.5 527.3L752.2 546.5M748.5 536.5L752.2 546.5L758.2 537.7M772.7 527.3L770 546.5M766.5 536.4L770 546.5L776.1 537.7M790.9 527.3L788.1 546.2M784.7 536.2L788.1 546.2L794.2 537.6M263.6 545.5L276.1 538M272.5 543.7L276.1 538L269.4 538.5M281.8 545.5L295.8 538.4M291.3 544.6L295.8 538.4L288.1 538.3M300 545.5L314.5 539.6M309.5 545.4L314.5 539.6L306.9 538.9M318.2 545.5L333.4 540M327.8 545.9L333.4 540L325.3 539M336.4 545.5L351.5 540M346 545.9L351.5 540L343.5 539M354.5 545.5L369.5 540.2M364.1 545.9L369.5 540.2L361.7 539.2M372.7 545.5L387.6 542M382 546.7L387.6 542L380.5 540.3M390.9 545.5L405.2 545.6M399.4 548.5L405.2 545.6L399.4 542.6M409.1 545.5L422.9 547.9M416.9 549.7L422.9 547.9L417.9 544.1M427.3 545.5L440.9 548.9M434.7 550.3L440.9 548.9L436.1 544.7M445.5 545.5L459 549.1M452.8 550.4L459 549.1L454.3 544.8M463.6 545.5L477.4 549.4M471 550.6L477.4 549.4L472.6 544.9M481.8 545.5L494.2 552.2M487.8 552L494.2 552.2L490.6 546.9M500 545.5L508.3 556.2M502.9 553.7L508.3 556.2L507.2 550.4M518.2 545.5L525 557.8M519.7 554.2L525 557.8L524.8 551.4M536.4 545.5L543.9 559.2M537.6 554.9L543.9 559.2L543.7 551.5M554.5 545.5L563.3 560.6M555.4 555.5L563.3 560.6L562.8 551.2M572.7 545.5L579.2 563.1M571.6 556.1L579.2 563.1L580.4 552.8M590.9 545.5L592.6 564.8M586.9 555.7L592.6 564.8L596.6 554.9M609.1 545.5L611.7 566.3M605.2 556.7L611.7 566.3L615.6 555.4M627.3 545.5L631 566.1M624 556.9L631 566.1L634.3 555.1M645.5 545.5L648.8 565.6M642.1 556.5L648.8 565.6L652.2 554.9M663.6 545.5L665.3 565.8M659.4 556.2L665.3 565.8L669.6 555.4M681.8 545.5L681.6 565.5M676.7 555.6L681.6 565.5L686.7 555.7M700 545.5L698.9 565.2M694.5 555.3L698.9 565.2L704.4 555.8M718.2 545.5L716.9 564.8M712.7 555L716.9 564.8L722.4 555.6M736.4 545.5L734.9 564.8M730.8 555L734.9 564.8L740.5 555.7M754.5 545.5L752.8 564.8M748.8 554.9L752.8 564.8L758.5 555.8M772.7 545.5L770.6 564.5M766.9 554.6L770.6 564.5L776.4 555.7M790.9 545.5L788.7 564.5M785 554.6L788.7 564.5L794.5 555.7M245.5 563.6L259.4 554M255.2 561.8L259.4 554L250.6 555.2M263.6 563.6L278.1 553.8M273.6 562.1L278.1 553.8L268.8 555M281.8 563.6L297.3 554.1M292.1 562.6L297.3 554.1L287.3 554.9M300 563.6L315.5 555.5M310.1 563.2L315.5 555.5L306.1 555.6M318.2 563.6L334 557.6M328.1 564.2L334 557.6L325.2 556.7M336.4 563.6L352.8 557.6M346.4 564.5L352.8 557.6L343.5 556.5M354.5 563.6L370.5 557.9M364.4 564.4L370.5 557.9L361.7 556.8M372.7 563.6L389.4 560.7M382.3 566L389.4 560.7L380.9 558.1M390.9 563.6L407 566.3M399.1 568.8L407 566.3L400.3 561.4M409.1 563.6L424.4 567.7M416.7 569.4L424.4 567.7L418.6 562.4M427.3 563.6L442.6 567.8M434.9 569.4L442.6 567.8L436.7 562.5M445.5 563.6L460.8 567.7M453.1 569.4L460.8 567.7L454.9 562.5M463.6 563.6L478.5 567.7M471.2 569.2L478.5 567.7L473 562.7M481.8 563.6L495.2 570.4M488.1 570.4L495.2 570.4L491 564.6M500 563.6L510.7 573.8M504.1 571.8L510.7 573.8L508.4 567.3M518.2 563.6L526.2 575.7M520.4 572.4L526.2 575.7L525.4 569M536.4 563.6L544.8 576.9M538.1 572.9L544.8 576.9L544 569.2M554.5 563.6L564.2 577.5M556.4 573.4L564.2 577.5L563 568.8M572.7 563.6L580.1 579.5M572.7 573.7L580.1 579.5L580.5 570.1M590.9 563.6L596 581.7M589 574.1L596 581.7L598 571.6M609.1 563.6L613 584.5M605.9 575.3L613 584.5L616.3 573.3M627.3 563.6L631.2 584.5M624.1 575.3L631.2 584.5L634.5 573.3M645.5 563.6L648.9 584M642.1 574.9L648.9 584L652.3 573.2M663.6 563.6L665.3 584.8M659.2 574.9L665.3 584.8L669.8 574M681.8 563.6L681.6 584.3M676.6 574.1L681.6 584.3L686.9 574.2M700 563.6L699.3 583.6M694.6 573.7L699.3 583.6L704.6 574M718.2 563.6L717.3 583.4M712.8 573.5L717.3 583.4L722.7 573.9M736.4 563.6L735.1 583M730.9 573.2L735.1 583L740.6 573.8M754.5 563.6L752.7 582.9M748.8 573L752.7 582.9L758.4 573.9M772.7 563.6L770.5 582.9M766.8 572.9L770.5 582.9L776.4 574M790.9 563.6L788.7 582.3M785.1 572.6L788.7 582.3L794.5 573.7M209.1 581.8L222 572.2M218.4 579.5L222 572.2L214 573.6M227.3 581.8L240.6 572.4M236.7 579.8L240.6 572.4L232.4 573.6M245.5 581.8L259.8 571.8M255.4 580.1L259.8 571.8L250.5 573.1M263.6 581.8L279 571.1M274.2 580.2L279 571.1L268.8 572.5M281.8 581.8L298.2 570.7M292.9 580.2L298.2 570.7L287.4 572.1M300 581.8L316.3 570.7M311.1 580.2L316.3 570.7L305.5 572.1M318.2 581.8L334.9 572.5M329 581.3L334.9 572.5L324.4 572.9M336.4 581.8L354.3 575.2M347.2 582.9L354.3 575.2L343.9 574M354.5 581.8L372.3 576.6M364.9 583.6L372.3 576.6L362.3 574.7M372.7 581.8L390.2 583.3M381.5 586.9L390.2 583.3L382.2 578.3M390.9 581.8L406.9 587.2M398.2 588.5L406.9 587.2L400.8 580.9M409.1 581.8L424.5 587.2M416.3 588.3L424.5 587.2L418.8 581.2M427.3 581.8L442.6 586.7M434.6 588L442.6 586.7L436.9 581M445.5 581.8L460.9 586.6M452.9 588L460.9 586.6L455 580.9M463.6 581.8L477.9 588.8M470 588.9L477.9 588.8L473.1 582.5M481.8 581.8L494.5 590.5M487.1 589.5L494.5 590.5L491 583.9M500 581.8L511.9 590.9M504.9 589.6L511.9 590.9L508.8 584.5M518.2 581.8L527.4 593.4M521.1 590.5L527.4 593.4L526 586.6M536.4 581.8L544.9 594.9M538.3 591.1L544.9 594.9L544.1 587.3M554.5 581.8L563.8 595.7M556.3 591.5L563.8 595.7L562.8 587.1M572.7 581.8L580.2 597.7M572.8 591.9L580.2 597.7L580.5 588.2M590.9 581.8L595.2 599.8M588.6 592.1L595.2 599.8L597.6 589.9M609.1 581.8L611 603.6M604.6 593.4L611 603.6L615.5 592.5M627.3 581.8L630 603.5M623.2 593.6L630 603.5L634.1 592.2M645.5 581.8L648.2 602.9M641.6 593.3L648.2 602.9L652.1 591.9M663.6 581.8L664.2 603.7M658.4 593.1L664.2 603.7L669.4 592.8M681.8 581.8L680.9 602.4M676.2 592.1L680.9 602.4L686.5 592.6M700 581.8L699 602.2M694.4 591.9L699 602.2L704.6 592.5M718.2 581.8L717.2 601.8M712.7 591.8L717.2 601.8L722.7 592.3M736.4 581.8L735.1 601.2M730.9 591.4L735.1 601.2L740.5 592M754.5 581.8L752.4 601.1M748.6 591.1L752.4 601.1L758.3 592.2M772.7 581.8L770.4 600.8M766.8 590.9L770.4 600.8L776.3 592.1M790.9 581.8L788.6 600.5M785.1 590.8L788.6 600.5L794.4 591.9M136.4 600L147.4 588.8M145 596.2L147.4 588.8L140.1 591.3M154.5 600L165.7 588.8M163.3 596.3L165.7 588.8L158.3 591.2M172.7 600L183.8 588.9M181.4 596.2L183.8 588.9L176.5 591.3M190.9 600L202.3 589.2M199.7 596.5L202.3 589.2L194.9 591.4M209.1 600L221.7 590M218.3 597.3L221.7 590L213.8 591.6M227.3 600L240.5 590.5M236.7 597.8L240.5 590.5L232.3 591.7M245.5 600L259.8 589.9M255.4 598.3L259.8 589.9L250.5 591.3M263.6 600L279 589.2M274.2 598.3L279 589.2L268.8 590.7M281.8 600L297.7 588.9M292.7 598.3L297.7 588.9L287.2 590.4M300 600L315.9 588.9M310.9 598.3L315.9 588.9L305.3 590.4M318.2 600L334.3 589.2M329.1 598.5L334.3 589.2L323.7 590.5M336.4 600L354.6 593.3M347.3 601.1L354.6 593.3L344 592M354.5 600L373.5 597.4M364.9 603.4L373.5 597.4L363.6 593.9M372.7 600L390.5 603.5M380.9 606.2L390.5 603.5L382.7 597.3M390.9 600L407.4 606M398 607.1L407.4 606L400.9 599.1M409.1 600L424.8 605.7M416.2 606.7L424.8 605.7L418.9 599.4M427.3 600L442.6 605.6M434.4 606.6L442.6 605.6L436.9 599.6M445.5 600L460.6 607.5M451.8 607.6L460.6 607.5L455.3 600.4M463.6 600L477.1 609.2M468.9 608.1L477.1 609.2L473.1 602M481.8 600L495 609.2M487 608.1L495 609.2L491.2 602.1M500 600L512.9 609.2M505.1 608L512.9 609.2L509.3 602.2M518.2 600L529.1 611.2M521.8 608.8L529.1 611.2L526.8 603.9M536.4 600L545 613.6M538 609.5L545 613.6L544.2 605.5M554.5 600L562.5 614.9M555.3 609.9L562.5 614.9L562.4 606.1M572.7 600L577.8 617.4M571 610.2L577.8 617.4L579.7 607.6M590.9 600L591.6 618.5M586.6 609.6L591.6 618.5L595.9 609.3M609.1 600L609.9 621.6M604.1 611.2L609.9 621.6L614.9 610.8M627.3 600L628.8 621.8M622.6 611.5L628.8 621.8L633.5 610.7M645.5 600L647.6 621.5M641.2 611.5L647.6 621.5L651.9 610.4M663.6 600L663.6 621.3M658.3 610.8L663.6 621.3L668.9 610.9M681.8 600L680.8 620.6M676.1 610.3L680.8 620.6L686.4 610.8M700 600L698.9 620.4M694.4 610.1L698.9 620.4L704.5 610.7M718.2 600L717.2 619.7M712.7 609.8L717.2 619.7L722.6 610.3M736.4 600L735 619.4M730.9 609.5L735 619.4L740.5 610.2M754.5 600L752.3 619.3M748.6 609.3L752.3 619.3L758.2 610.4M772.7 600L770.4 619M766.8 609.1L770.4 619L776.3 610.3M790.9 600L788.6 618.6M785.1 608.9L788.6 618.6L794.4 610.1M27.3 618.2L30.7 608.8M31.1 612.3L30.7 608.8L28.2 611.2M45.5 618.2L50.2 608.1M50.4 612.3L50.2 608.1L46.9 610.7M63.6 618.2L69.7 607.3M69.5 612.4L69.7 607.3L65.4 610.2M81.8 618.2L88.5 606.9M88.1 612.5L88.5 606.9L83.7 609.9M100 618.2L107.4 606.2M106.9 612.6L107.4 606.2L102 609.5M118.2 618.2L127.3 606.9M125.9 613.5L127.3 606.9L121.2 609.7M136.4 618.2L147.5 607M145.1 614.4L147.5 607L140.1 609.4M154.5 618.2L165.8 607M163.3 614.5L165.8 607L158.3 609.4M172.7 618.2L183.6 607.3M181.3 614.4L183.6 607.3L176.5 609.6M190.9 618.2L201.7 607.2M199.5 614.4L201.7 607.2L194.7 609.6M209.1 618.2L220.7 607M218.1 614.7L220.7 607L213 609.4M227.3 618.2L239.5 606.9M236.5 615L239.5 606.9L231.2 609.2M245.5 618.2L258.5 606.5M255.1 615.3L258.5 606.5L249.4 608.9M263.6 618.2L277.7 606.1M273.8 615.5L277.7 606.1L267.8 608.5M281.8 618.2L297.1 607.3M292.3 616.4L297.1 607.3L286.9 608.8M300 618.2L315.3 607.7M310.4 616.7L315.3 607.7L305.2 609M318.2 618.2L334 609.3M328.5 617.6L334 609.3L324.1 609.7M336.4 618.2L354 614M346.4 620.4L354 614L344.3 611.6M354.5 618.2L372.2 615.2M364.3 621.1L372.2 615.2L362.9 612.3M372.7 618.2L390.3 618M381.9 622.4L390.3 618L381.8 613.8M390.9 618.2L407.8 623M398.5 624.8L407.8 623L400.9 616.6M409.1 618.2L425 623.9M416.2 625L425 623.9L419 617.5M427.3 618.2L442.5 625.5M433.7 625.7L442.5 625.5L437.2 618.5M445.5 618.2L461.3 627.1M451.3 626.7L461.3 627.1L455.7 618.8M463.6 618.2L478.5 628.2M468.7 627L478.5 628.2L473.7 619.6M481.8 618.2L496 628.1M486.9 626.8L496 628.1L491.7 620M500 618.2L513.7 628.1M504.9 626.7L513.7 628.1L509.7 620.2M518.2 618.2L529.9 629.5M522 627.1L529.9 629.5L527.2 621.7M536.4 618.2L545.3 631.8M538.1 627.7L545.3 631.8L544.4 623.6M554.5 618.2L561.4 633.6M554.5 628.1L561.4 633.6L561.9 624.8M572.7 618.2L576.5 636.3M570.1 628.4L576.5 636.3L579.2 626.5M590.9 618.2L592 636.7M586.9 627.9L592 636.7L596.1 627.3M609.1 618.2L610.1 638.8M604.5 628.9L610.1 638.8L614.8 628.4M627.3 618.2L629 639.1M622.9 629.3L629 639.1L633.4 628.4M645.5 618.2L647.4 638.7M641.3 629.1L647.4 638.7L651.6 628.2M663.6 618.2L663.7 639.2M658.4 628.9L663.7 639.2L668.9 628.9M681.8 618.2L680.9 638.8M676.2 628.5L680.9 638.8L686.5 628.9M700 618.2L699 638.5M694.4 628.3L699 638.5L704.6 628.8M718.2 618.2L717.2 637.9M712.7 628L717.2 637.9L722.6 628.5M736.4 618.2L735.1 637.5M730.9 627.7L735.1 637.5L740.5 628.4M754.5 618.2L752.4 637.5M748.6 627.5L752.4 637.5L758.3 628.6M772.7 618.2L770.4 637.2M766.8 627.3L770.4 637.2L776.3 628.5M790.9 618.2L788.6 636.8M785.1 627.1L788.6 636.8L794.4 628.3M9.1 636.4L10.4 628.9M11.2 631.4L10.4 628.9L8.8 631M27.3 636.4L29.6 626.6M30.4 630L29.6 626.6L27.3 629.3M45.5 636.4L49.5 625.9M49.9 630.1L49.5 625.9L46.3 628.8M63.6 636.4L69.5 625.4M69.4 630.5L69.5 625.4L65.3 628.3M81.8 636.4L88.6 624.6M88.3 630.6L88.6 624.6L83.6 627.8M100 636.4L107 624.2M106.7 630.5L107 624.2L101.7 627.7M118.2 636.4L125.8 624.1M125.3 630.7L125.8 624.1L120.1 627.5M136.4 636.4L146.9 625.2M144.8 632.3L146.9 625.2L139.9 627.7M154.5 636.4L164.9 625.9M162.8 632.5L164.9 625.9L158.4 628M172.7 636.4L182.8 625.9M180.8 632.3L182.8 625.9L176.4 628.1M190.9 636.4L200.6 625.6M198.9 632.1L200.6 625.6L194.4 628M209.1 636.4L219.6 623.9M217.7 632L219.6 623.9L212 627.1M227.3 636.4L237.4 622.8M235.9 631.6L237.4 622.8L229.5 626.7M245.5 636.4L255.9 621.5M254.5 631.4L255.9 621.5L247.1 626.2M263.6 636.4L274.7 621.2M273.1 631.4L274.7 621.2L265.5 625.9M281.8 636.4L295.6 623.6M292 633.3L295.6 623.6L285.7 626.4M300 636.4L315.3 627.8M310.1 635.6L315.3 627.8L305.9 628.2M318.2 636.4L334.1 631.5M327.9 637.5L334.1 631.5L325.6 630M336.4 636.4L352.1 632.9M345.8 638.1L352.1 632.9L344.3 630.9M354.5 636.4L370.6 633.5M364 638.5L370.6 633.5L362.7 631.1M372.7 636.4L389.3 634.7M382.1 639.4L389.3 634.7L381.3 631.6M390.9 636.4L407.8 637.9M399.5 641.2L407.8 637.9L400.3 633.2M409.1 636.4L423.5 644.7M414.9 644.3L423.5 644.7L418.8 637.5M427.3 636.4L440.5 646.9M431.9 645.1L440.5 646.9L436.8 638.8M445.5 636.4L460.7 646.9M450.6 645.5L460.7 646.9L455.9 637.9M463.6 636.4L479.6 647M469.1 645.8L479.6 647L474.4 637.8M481.8 636.4L497.3 647.6M486.9 646L497.3 647.6L492.5 638.2M500 636.4L514.6 648.1M504.5 646L514.6 648.1L510.4 638.7M518.2 636.4L530.3 648.7M521.5 645.8L530.3 648.7L527.5 640M536.4 636.4L546.1 650.7M538 646.2L546.1 650.7L544.9 641.5M554.5 636.4L562.1 653.3M554.2 646.9L562.1 653.3L562.6 643.1M572.7 636.4L577.5 654.9M570.5 647L577.5 654.9L579.8 644.6M590.9 636.4L593.5 655.3M587.5 646.7L593.5 655.3L597 645.4M609.1 636.4L611.3 656.9M605.1 647.4L611.3 656.9L615.3 646.3M627.3 636.4L629.7 657.2M623.3 647.6L629.7 657.2L633.7 646.4M645.5 636.4L647.7 657.5M641.3 647.7L647.7 657.5L651.9 646.6M663.6 636.4L664.4 657.6M658.7 647.4L664.4 657.6L669.3 647M681.8 636.4L681.3 657.4M676.3 647L681.3 657.4L686.8 647.2M700 636.4L699.2 657M694.4 646.7L699.2 657L704.7 647.1M718.2 636.4L717.3 657M712.6 646.6L717.3 657L722.9 647.1M736.4 636.4L735.1 656.7M730.6 646.4L735.1 656.7L740.8 647.1M754.5 636.4L752.6 656.3M748.6 646L752.6 656.3L758.5 647M772.7 636.4L770.5 656M766.7 645.8L770.5 656L776.5 646.9M790.9 636.4L788.7 655.4M785 645.5L788.7 655.4L794.5 646.6M9.1 654.5L9.6 647M10.7 649.4L9.6 647L8.2 649.2M27.3 654.5L28.1 645.1M29.4 648.2L28.1 645.1L26.4 647.9M45.5 654.5L47.8 643.6M48.9 647.7L47.8 643.6L45.1 646.9M63.6 654.5L69 643.4M69.1 648.4L69 643.4L64.9 646.4M81.8 654.5L88.6 642.7M88.3 648.7L88.6 642.7L83.6 646M100 654.5L106.9 642.5M106.6 648.7L106.9 642.5L101.7 645.9M118.2 654.5L125.4 642.2M125 648.7L125.4 642.2L119.9 645.7M136.4 654.5L144.4 642.5M143.6 649.1L144.4 642.5L138.5 645.8M154.5 654.5L163.2 642.9M162.1 649.5L163.2 642.9L157.2 645.9M172.7 654.5L181.3 642.8M180.2 649.4L181.3 642.8L175.3 645.9M190.9 654.5L199.6 642.6M198.5 649.5L199.6 642.6L193.5 645.8M209.1 654.5L218.6 641.9M217.3 649.6L218.6 641.9L211.5 645.3M227.3 654.5L237.1 640.8M235.8 649.5L237.1 640.8L229.2 644.9M245.5 654.5L256.1 639.4M254.7 649.5L256.1 639.4L247.1 644.2M263.6 654.5L274.7 638.9M273.2 649.3L274.7 638.9L265.4 643.8M281.8 654.5L294.5 640.7M291.8 650.7L294.5 640.7L284.9 644.3M300 654.5L315.2 647.2M309.9 654.2L315.2 647.2L306.4 647M318.2 654.5L333.4 650.6M327.6 655.7L333.4 650.6L325.8 649M336.4 654.5L351.6 650.7M345.8 655.8L351.6 650.7L344.1 649M354.5 654.5L369.9 650.5M364 655.8L369.9 650.5L362.2 648.9M372.7 654.5L389 653.1M381.9 657.5L389 653.1L381.3 650M390.9 654.5L407.1 656M399.5 659.1L407.1 656L400.1 651.6M409.1 654.5L422.4 664M414.2 662.8L422.4 664L418.5 656.6M427.3 654.5L440.3 665.4M431.6 663.4L440.3 665.4L436.8 657.2M445.5 654.5L460.4 665.6M450.3 663.9L460.4 665.6L455.8 656.4M463.6 654.5L478.8 666.6M468.4 664.5L478.8 666.6L474.4 656.9M481.8 654.5L495.5 668.3M485.3 665L495.5 668.3L492.2 658.2M500 654.5L513 669M503 665.1L513 669L510.2 658.6M518.2 654.5L530.2 669M520.7 664.9L530.2 669L527.9 658.9M536.4 654.5L547 670.5M537.8 665.3L547 670.5L545.8 660M554.5 654.5L562.8 672.5M554.3 665.8L562.8 672.5L563.3 661.6M572.7 654.5L578.3 673.5M570.9 665.6L578.3 673.5L580.3 662.8M590.9 654.5L594.8 674.2M588 665.5L594.8 674.2L597.8 663.6M609.1 654.5L612.3 675.6M605.5 666.1L612.3 675.6L616 664.5M627.3 654.5L630.2 676.2M623.3 666.3L630.2 676.2L634.2 664.9M645.5 654.5L647.8 677.6M640.9 666.9L647.8 677.6L652.4 665.7M663.6 654.5L664.7 677.8M658.4 666.7L664.7 677.8L670 666.1M681.8 654.5L681.8 677M676.2 666L681.8 677L687.4 666M700 654.5L699.4 676.2M694.3 665.4L699.4 676.2L705.1 665.7M718.2 654.5L717.3 675.8M712.4 665.1L717.3 675.8L723 665.6M736.4 654.5L735 675.1M730.5 664.7L735 675.1L740.8 665.4M754.5 654.5L752.7 674.9M748.5 664.4L752.7 674.9L758.7 665.4M772.7 654.5L770.5 674.4M766.6 664.1L770.5 674.4L776.6 665.2M790.9 654.5L788.6 674.2M784.8 664L788.6 674.2L794.6 665.1M9.1 672.7L9.2 665.1M10.4 667.5L9.2 665.1L8 667.5M27.3 672.7L27.4 663.2M28.9 666.2L27.4 663.2L25.8 666.2M45.5 672.7L46 661.5M47.7 665.4L46 661.5L43.9 665.2M63.6 672.7L66.9 660.8M67.9 665.7L66.9 660.8L63.5 664.5M81.8 672.7L87.8 661.1M87.8 666.7L87.8 661.1L83.3 664.3M100 672.7L106.6 660.8M106.4 666.8L106.6 660.8L101.6 664.2M118.2 672.7L124.5 660.2M124.6 666.5L124.5 660.2L119.4 663.9M136.4 672.7L141.2 659.3M142 665.8L141.2 659.3L136.4 663.7M154.5 672.7L159 658.9M160 665.5L159 658.9L154.3 663.7M172.7 672.7L177.8 659.1M178.5 665.8L177.8 659.1L172.8 663.7M190.9 672.7L197.6 659.6M197.6 666.5L197.6 659.6L192 663.6M209.1 672.7L217.7 659.6M216.8 667.3L217.7 659.6L211 663.4M227.3 672.7L236.8 659.1M235.6 667.6L236.8 659.1L229.2 663.1M245.5 672.7L255.9 657.9M254.5 667.8L255.9 657.9L247.1 662.5M263.6 672.7L274.9 657.3M273.3 667.7L274.9 657.3L265.5 662M281.8 672.7L295.2 659.5M291.9 669.3L295.2 659.5L285.3 662.7M300 672.7L315.7 665.4M310 672.7L315.7 665.4L306.5 665.1M318.2 672.7L333.7 668.5M327.7 673.9L333.7 668.5L325.8 666.8M336.4 672.7L351.8 669.2M345.8 674.3L351.8 669.2L344.2 667.3M354.5 672.7L370.4 670M363.9 674.9L370.4 670L362.7 667.6M372.7 672.7L389 671.3M382 675.7L389 671.3L381.3 668.2M390.9 672.7L407.2 673.2M399.7 676.8L407.2 673.2L400 669.3M409.1 672.7L424.2 678.4M416.1 679.3L424.2 678.4L418.7 672.4M427.3 672.7L441.4 681.6M432.8 680.8L441.4 681.6L437 674.2M445.5 672.7L460.6 683.5M450.5 682L460.6 683.5L455.8 674.4M463.6 672.7L475.2 688.3M465.7 683.6L475.2 688.3L473.4 677.8M481.8 672.7L491.2 689.7M482.4 683.7L491.2 689.7L490.8 679M500 672.7L509.6 689.3M500.7 683.6L509.6 689.3L509 678.8M518.2 672.7L528.4 688.5M519.5 683.3L528.4 688.5L527.3 678.2M536.4 672.7L546.6 689.9M537.3 684.1L546.6 689.9L545.9 678.9M554.5 672.7L562 692M553.6 684.4L562 692L563.2 680.7M572.7 672.7L576.6 692.7M569.7 683.9L576.6 692.7L579.7 682M590.9 672.7L592.8 692.7M586.9 683.4L592.8 692.7L596.9 682.4M609.1 672.7L610.5 694.3M604.4 684.1L610.5 694.3L615.2 683.4M627.3 672.7L628.8 694.9M622.5 684.4L628.8 694.9L633.6 683.7M645.5 672.7L646.8 695.4M640.5 684.6L646.8 695.4L651.8 684M663.6 672.7L663.9 695.6M658 684.5L663.9 695.6L669.5 684.4M681.8 672.7L681 695.6M675.7 684.2L681 695.6L687.1 684.6M700 672.7L698.7 695.2M693.7 683.9L698.7 695.2L705 684.5M718.2 672.7L716.8 693.9M712.2 683.2L716.8 693.9L722.8 683.9M736.4 672.7L734.6 693.3M730.3 682.8L734.6 693.3L740.6 683.7M754.5 672.7L752.1 693.2M748.2 682.6L752.1 693.2L758.4 683.8M772.7 672.7L769.8 692.9M766.2 682.3L769.8 692.9L776.3 683.7M790.9 672.7L788 692.3M784.5 682L788 692.3L794.3 683.4M9.1 690.9L9.1 682.8M10.4 685.4L9.1 682.8L7.8 685.3M27.3 690.9L27.3 680.9M28.9 684L27.3 680.9L25.7 684M45.5 690.9L45.5 679.7M47.4 683.5L45.5 679.7L43.5 683.5M63.6 690.9L64.7 678.6M66.6 683.3L64.7 678.6L62 682.9M81.8 690.9L85 678.2M86.3 683.7L85 678.2L81.3 682.4M100 690.9L103.8 677.9M104.9 683.7L103.8 677.9L99.7 682.2M118.2 690.9L122.1 677.6M123.2 683.7L122.1 677.6L117.8 682.1M136.4 690.9L140 677.3M141.3 683.6L140 677.3L135.8 682M154.5 690.9L158.3 677.1M159.6 683.5L158.3 677.1L153.9 682M172.7 690.9L176.7 677M178 683.5L176.7 677L172.1 681.9M190.9 690.9L195.9 677.3M196.7 684L195.9 677.3L191 681.9M209.1 690.9L215.6 677.5M215.8 684.5L215.6 677.5L210 681.7M227.3 690.9L234.3 676.4M234.5 684.5L234.3 676.4L227.9 681.3M245.5 690.9L253 675.1M253.3 684.5L253 675.1L245.5 680.8M263.6 690.9L273 674.2M272.6 684.7L273 674.2L264.2 680.1M281.8 690.9L295 677M292 687.1L295 677L285.1 680.5M300 690.9L316.1 682.4M310.3 690.6L316.1 682.4L306.1 682.6M318.2 690.9L333.9 685.2M328 691.5L333.9 685.2L325.3 684.2M336.4 690.9L351.9 686.6M345.9 692.1L351.9 686.6L343.9 685M354.5 690.9L370.1 686.8M364.1 692.2L370.1 686.8L362.2 685.1M372.7 690.9L388.8 688.1M382.2 693.1L388.8 688.1L380.9 685.7M390.9 690.9L406.7 689.9M400 693.9L406.7 689.9L399.5 686.8M409.1 690.9L423 698.5M415.1 698.3L423 698.5L418.6 692M427.3 690.9L441.7 698.5M433.4 698.4L441.7 698.5L436.9 691.7M445.5 690.9L459.5 702.5M449.7 700.3L459.5 702.5L455.5 693.3M463.6 690.9L472.4 708.2M463.8 701.9L472.4 708.2L472.4 697.6M481.8 690.9L490 708.5M481.6 701.9L490 708.5L490.4 697.8M500 690.9L508.5 708.4M500 701.9L508.5 708.4L508.7 697.7M518.2 690.9L527.3 707.3M518.7 701.6L527.3 707.3L526.9 697M536.4 690.9L545.8 709.3M536.6 702.6L545.8 709.3L545.8 697.9M554.5 690.9L559.6 711.6M551.9 702.7L559.6 711.6L562.3 700.2M572.7 690.9L573.7 712.1M567.9 702L573.7 712.1L578.5 701.5M590.9 690.9L590.6 711.5M585.6 701.4L590.6 711.5L595.9 701.5M609.1 690.9L608.7 712.8M603.4 702L608.7 712.8L614.4 702.2M627.3 690.9L627.2 712.8M621.8 702.1L627.2 712.8L632.7 702.1M645.5 690.9L645.6 712.8M640 702.1L645.6 712.8L651 702M663.6 690.9L662.8 712.2M657.9 701.5L662.8 712.2L668.5 702M681.8 690.9L680.2 712.1M675.7 701.3L680.2 712.1L686.3 702.1M700 690.9L698.2 712.1M693.8 701.3L698.2 712.1L704.4 702.2M718.2 690.9L716.4 712.1M712 701.3L716.4 712.1L722.6 702.2M736.4 690.9L734.2 711.4M730.1 700.8L734.2 711.4L740.4 701.9M754.5 690.9L751.4 711.3M747.9 700.5L751.4 711.3L758 702.1M772.7 690.9L769.3 711M766 700.3L769.3 711L776 702M790.9 690.9L787.5 710.6M784.3 700.1L787.5 710.6L794.1 701.8M9.1 709.1L9.1 700.8M10.4 703.4L9.1 700.8L7.8 703.4M27.3 709.1L27.3 698.4M29.1 701.9L27.3 698.4L25.5 701.9M45.5 709.1L45.5 697.2M47.6 701.4L45.5 697.2L43.3 701.4M63.6 709.1L64.4 696.7M66.4 701.4L64.4 696.7L61.8 701.1M81.8 709.1L83.2 696M85.2 701.3L83.2 696L80.1 700.8M100 709.1L101.4 695.6M103.5 701.1L101.4 695.6L98.1 700.6M118.2 709.1L120.4 695.2M122.4 701.3L120.4 695.2L116.7 700.3M136.4 709.1L140 695.3M141.4 701.7L140 695.3L135.7 700.1M154.5 709.1L158.3 695.1M159.7 701.6L158.3 695.1L153.8 700.1M172.7 709.1L176.6 695.1M177.9 701.7L176.6 695.1L172.1 700.1M190.9 709.1L195.5 695.1M196.6 701.9L195.5 695.1L190.6 699.9M209.1 709.1L213.7 695.3M214.7 702L213.7 695.3L208.9 700M227.3 709.1L230.9 693.8M232.7 701.3L230.9 693.8L225.9 699.7M245.5 709.1L248.7 692.5M251.1 701L248.7 692.5L243.3 699.4M263.6 709.1L267.8 690.8M270.3 700.8L267.8 690.8L261.2 698.7M281.8 709.1L291.3 692.1M290.9 702.8L291.3 692.1L282.4 698.1M300 709.1L315.2 698.5M310.4 707.5L315.2 698.5L305.1 699.9M318.2 709.1L332.4 700M328 707.6L332.4 700L323.6 700.8M336.4 709.1L350.7 701.3M346 708.1L350.7 701.3L342.4 701.5M354.5 709.1L370.1 704.9M364.1 710.3L370.1 704.9L362.2 703.2M372.7 709.1L388.3 706.4M382.1 711.1L388.3 706.4L380.8 704M390.9 709.1L406.3 708.1M399.9 711.9L406.3 708.1L399.4 705.1M409.1 709.1L422.8 716.7M415.1 716.4L422.8 716.7L418.5 710.3M427.3 709.1L441.3 717.4M433 716.9L441.3 717.4L436.9 710.4M445.5 709.1L458.9 721.2M449.3 718.7L458.9 721.2L455.4 711.9M463.6 709.1L472.3 726.2M463.8 720L472.3 726.2L472.3 715.7M481.8 709.1L490 726.7M481.6 720.1L490 726.7L490.4 716M500 709.1L508.4 726.6M499.9 720.1L508.4 726.6L508.7 715.9M518.2 709.1L527.3 725.9M518.6 720L527.3 725.9L527 715.4M536.4 709.1L544.9 727.9M536 720.8L544.9 727.9L545.4 716.5M554.5 709.1L557.5 730.5M550.7 720.7L557.5 730.5L561.4 719.3M572.7 709.1L572.4 731.6M567 720.5L572.4 731.6L578.2 720.6M590.9 709.1L590.1 731.6M584.9 720.4L590.1 731.6L596.1 720.7M609.1 709.1L608.3 731.3M603.1 720.2L608.3 731.3L614.3 720.6M627.3 709.1L626.7 730.3M621.7 719.8L626.7 730.3L632.3 720.1M645.5 709.1L645 730.1M640 719.7L645 730.1L650.5 719.9M663.6 709.1L662.3 730.1M657.7 719.4L662.3 730.1L668.2 720.1M681.8 709.1L680 730M675.7 719.3L680 730L686.1 720.2M700 709.1L698.2 730M693.8 719.3L698.2 730L704.3 720.2M718.2 709.1L716.3 730M712 719.3L716.3 730L722.5 720.2M736.4 709.1L734.1 730M730 719.2L734.1 730L740.4 720.3M754.5 709.1L751 730.1M747.5 718.9L751 730.1L758 720.7M772.7 709.1L769.1 729.4M765.8 718.6L769.1 729.4L776 720.4M790.9 709.1L787.4 728.8M784.2 718.3L787.4 728.8L794.1 720M9.1 727.3L9.2 719M10.5 721.6L9.2 719L7.8 721.5M27.3 727.3L27.3 716.6M29.1 720.1L27.3 716.6L25.5 720.1M45.5 727.3L45.7 715.4M47.8 719.6L45.7 715.4L43.4 719.5M63.6 727.3L64.6 714.9M66.5 719.6L64.6 714.9L61.9 719.2M81.8 727.3L83 713.7M85.3 719.3L83 713.7L79.8 718.8M100 727.3L101.2 713.5M103.5 719.2L101.2 713.5L97.9 718.7M118.2 727.3L119.5 713.3M121.9 719.2L119.5 713.3L116.1 718.6M136.4 727.3L139.4 713.3M141.1 719.6L139.4 713.3L135.3 718.4M154.5 727.3L158.2 713.4M159.6 719.8L158.2 713.4L153.8 718.3M172.7 727.3L176.6 713.5M177.9 719.9L176.6 713.5L172.2 718.3M190.9 727.3L195.3 713.5M196.4 720.1L195.3 713.5L190.6 718.2M209.1 727.3L212.8 713.4M214.2 719.9L212.8 713.4L208.4 718.3M227.3 727.3L230.2 712.1M232.2 719.3L230.2 712.1L225.6 718M245.5 727.3L248.3 711.2M250.7 719.1L248.3 711.2L243.3 717.8M263.6 727.3L266.9 709M269.9 718.8L266.9 709L260.8 717.2M281.8 727.3L288.7 709.1M289.9 719.7L288.7 709.1L280.8 716.3M300 727.3L314.5 715.3M310.4 724.8L314.5 715.3L304.4 717.6M318.2 727.3L330.6 715.8M327.5 724.1L330.6 715.8L322.1 718.2M336.4 727.3L346.9 714.8M345 722.9L346.9 714.8L339.2 718M354.5 727.3L368.8 719.7M364.1 726.3L368.8 719.7L360.6 719.8M372.7 727.3L387.9 723.3M382.1 728.4L387.9 723.3L380.4 721.7M390.9 727.3L405.1 730.1M398.7 731.9L405.1 730.1L399.9 725.9M409.1 727.3L420.5 737.4M413.4 735.5L420.5 737.4L417.8 730.6M427.3 727.3L437.6 739.9M430 736.6L437.6 739.9L435.8 731.8M445.5 727.3L458.1 740.3M448.6 737.1L458.1 740.3L455.1 730.8M463.6 727.3L474.7 742.9M465.4 738L474.7 742.9L473.2 732.5M481.8 727.3L490.9 744.1M482.2 738.1L490.9 744.1L490.7 733.6M500 727.3L509.2 744.1M500.5 738.1L509.2 744.1L508.9 733.5M518.2 727.3L527.7 743.5M519 737.9L527.7 743.5L527.1 733.2M536.4 727.3L544.6 746.2M535.8 739L544.6 746.2L545.3 734.9M554.5 727.3L556.9 749M550.3 739L556.9 749L561.2 737.8M572.7 727.3L572.3 750.2M566.8 738.8L572.3 750.2L578.2 739.1M590.9 727.3L590.1 750.6M584.7 738.9L590.1 750.6L596.3 739.4M609.1 727.3L608.3 750.2M603 738.7L608.3 750.2L614.4 739.1M627.3 727.3L626.6 748.9M621.6 738.1L626.6 748.9L632.3 738.5M645.5 727.3L644.9 748.3M639.9 737.8L644.9 748.3L650.4 738.1M663.6 727.3L662.2 748.2M657.7 737.6L662.2 748.2L668.1 738.3M681.8 727.3L680 747.8M675.8 737.3L680 747.8L686 738.2M700 727.3L698.2 747.8M693.9 737.3L698.2 747.8L704.2 738.2M718.2 727.3L716.3 748.2M712 737.5L716.3 748.2L722.5 738.4M736.4 727.3L734 748.8M729.8 737.6L734 748.8L740.5 738.8M754.5 727.3L750.9 748.8M747.3 737.4L750.9 748.8L758.1 739.2M772.7 727.3L769.1 748M765.7 736.9L769.1 748L776 738.7M790.9 727.3L787.4 747.4M784.1 736.6L787.4 747.4L794.1 738.4M9.1 745.5L9.4 737.1M10.6 739.8L9.4 737.1L8 739.7M27.3 745.5L27.6 734.7M29.3 738.3L27.6 734.7L25.7 738.2M45.5 745.5L46.1 733.6M48 737.9L46.1 733.6L43.7 737.7M63.6 745.5L64.8 733.1M66.6 737.8L64.8 733.1L62 737.4M81.8 745.5L83 731.9M85.3 737.5L83 731.9L79.9 737M100 745.5L101.2 731.6M103.5 737.4L101.2 731.6L97.9 736.9M118.2 745.5L119.5 731.5M121.9 737.4L119.5 731.5L116.1 736.8M136.4 745.5L138.7 731.3M140.7 737.6L138.7 731.3L134.8 736.6M154.5 745.5L158 731.6M159.5 738L158 731.6L153.7 736.5M172.7 745.5L176.9 731.7M178 738.2L176.9 731.7L172.3 736.5M190.9 745.5L195.5 731.7M196.5 738.3L195.5 731.7L190.7 736.4M209.1 745.5L212.5 732.8M213.7 738.3L212.5 732.8L208.7 737M227.3 745.5L230.1 731.4M231.8 737.7L230.1 731.4L226 736.6M245.5 745.5L248.2 730M250.5 737.4L248.2 730L243.6 736.2M263.6 745.5L267.1 727.6M269.9 737.2L267.1 727.6L261 735.5M281.8 745.5L289.4 728.3M290 738.6L289.4 728.3L281.4 734.8M300 745.5L314.2 734.5M310 743.4L314.2 734.5L304.5 736.3M318.2 745.5L331.5 735.4M327.7 743.2L331.5 735.4L323 736.9M336.4 745.5L349.3 735.6M345.7 743L349.3 735.6L341.2 737.1M354.5 745.5L369.7 739.9M364.2 745.9L369.7 739.9L361.6 738.9M372.7 745.5L388 741.3M382.2 746.6L388 741.3L380.3 739.7M390.9 745.5L404.5 749M398.3 750.4L404.5 749L399.8 744.8M409.1 745.5L420.5 755.2M413.6 753.5L420.5 755.2L417.7 748.6M427.3 745.5L436.9 758.6M429.5 754.9L436.9 758.6L435.6 750.4M445.5 745.5L457.6 758.7M448.4 755.2L457.6 758.7L454.9 749.2M463.6 745.5L476.8 758.8M467 755.6L476.8 758.8L473.7 749M481.8 745.5L493.7 760M484.3 755.8L493.7 760L491.5 749.9M500 745.5L511.2 760.5M502 755.9L511.2 760.5L509.5 750.3M518.2 745.5L528.8 760.7M519.8 755.9L528.8 760.7L527.4 750.6M536.4 745.5L545.1 764.2M536.2 757.2L545.1 764.2L545.5 752.8M554.5 745.5L557.8 767.1M550.8 757.3L557.8 767.1L561.6 755.7M572.7 745.5L572.8 768M567.2 757L572.8 768L578.4 756.9M590.9 745.5L590.3 768.3M584.9 757L590.3 768.3L596.3 757.3M609.1 745.5L608.4 767.9M603.1 756.8L608.4 767.9L614.4 757.1M627.3 745.5L626.8 766.7M621.7 756.2L626.8 766.7L632.4 756.4M645.5 745.5L645 766.5M640 756.1L645 766.5L650.5 756.3M663.6 745.5L662.4 766.7M657.7 756L662.4 766.7L668.3 756.6M681.8 745.5L680.1 766M675.8 755.5L680.1 766L686.1 756.4M700 745.5L698.2 766M694 755.5L698.2 766L704.2 756.4M718.2 745.5L716.3 766.4M712 755.7L716.3 766.4L722.5 756.6M736.4 745.5L734 767M729.8 755.8L734 767L740.5 757M754.5 745.5L751.1 767.1M747.4 755.6L751.1 767.1L758.2 757.3M772.7 745.5L769.1 766.4M765.6 755.2L769.1 766.4L776.1 757M790.9 745.5L787.4 765.8M784 754.9L787.4 765.8L794.2 756.7M9.1 763.6L9.7 755.3M10.8 758L9.7 755.3L8.2 757.8M27.3 763.6L28.1 752.9M29.6 756.6L28.1 752.9L26 756.3M45.5 763.6L46.6 751.8M48.3 756.2L46.6 751.8L44 755.8M63.6 763.6L64.9 751.3M66.8 756.1L64.9 751.3L62.2 755.6M81.8 763.6L83.2 750.1M85.4 755.7L83.2 750.1L80 755.1M100 763.6L101.4 749.8M103.6 755.6L101.4 749.8L98 755M118.2 763.6L119.8 749.7M122 755.6L119.8 749.7L116.3 755M136.4 763.6L138.8 749.5M140.7 755.8L138.8 749.5L134.9 754.8M154.5 763.6L158.1 749.8M159.5 756.2L158.1 749.8L153.8 754.7M172.7 763.6L177.3 750.1M178.2 756.5L177.3 750.1L172.6 754.7M190.9 763.6L196 750M196.7 756.7L196 750L191 754.6M209.1 763.6L212.6 753M213.2 757.2L212.6 753L209.6 756M227.3 763.6L230.7 750.5M232 756.3L230.7 750.5L226.7 754.9M245.5 763.6L248.8 749.5M250.4 756.1L248.8 749.5L244.5 754.6M263.6 763.6L268.6 747.7M270 756.2L268.6 747.7L262.6 753.9M281.8 763.6L292.5 748.9M290.9 758.8L292.5 748.9L283.6 753.5M300 763.6L314.9 754.4M310 762.5L314.9 754.4L305.5 755.2M318.2 763.6L333.4 756.3M328.1 763.3L333.4 756.3L324.6 756.1M336.4 763.6L351.6 757.8M346 763.9L351.6 757.8L343.3 756.9M354.5 763.6L369.4 758.2M364.1 764L369.4 758.2L361.6 757.3M372.7 763.6L387.9 759.6M382.1 764.7L387.9 759.6L380.3 758M390.9 763.6L404.1 766.9M398.3 768.3L404.1 766.9L399.6 763M409.1 763.6L420.2 773M413.7 771.4L420.2 773L417.6 766.8M427.3 763.6L439.4 774.5M431.4 772.4L439.4 774.5L436.4 766.8M445.5 763.6L458.7 775.7M449.2 773.1L458.7 775.7L455.2 766.5M463.6 763.6L477.8 775.6M467.8 773.3L477.8 775.6L473.8 766.2M481.8 763.6L495.7 776M485.8 773.4L495.7 776L492 766.5M500 763.6L513.1 776.7M503.4 773.6L513.1 776.7L510 767M518.2 763.6L529.9 777.5M520.7 773.6L529.9 777.5L527.6 767.8M536.4 763.6L546.4 781.4M537.1 775.2L546.4 781.4L545.9 770.2M554.5 763.6L559.8 784.2M552.1 775.4L559.8 784.2L562.3 772.8M572.7 763.6L574.4 785.5M568.1 775.2L574.4 785.5L579 774.4M590.9 763.6L591.2 785.5M585.6 774.9L591.2 785.5L596.5 774.7M609.1 763.6L609.1 785.5M603.6 774.8L609.1 785.5L614.6 774.8M627.3 763.6L627.4 784.6M622.1 774.4L627.4 784.6L632.6 774.3M645.5 763.6L645.5 784.3M640.3 774.2L645.5 784.3L650.6 774.2M663.6 763.6L662.9 784.3M658.1 774L662.9 784.3L668.4 774.3M681.8 763.6L680.5 784M676.1 773.7L680.5 784L686.2 774.3M700 763.6L698.4 784.2M694.1 773.7L698.4 784.2L704.3 774.5M718.2 763.6L716.4 784.6M712.1 773.9L716.4 784.6L722.5 774.8M736.4 763.6L734.1 784.8M729.9 773.9L734.1 784.8L740.5 775M754.5 763.6L751.5 785.1M747.6 773.8L751.5 785.1L758.3 775.3M772.7 763.6L769.4 784.4M765.8 773.4L769.4 784.4L776.2 775M790.9 763.6L787.6 784M784.1 773.2L787.6 784L794.3 774.9" stroke="#fff" stroke-width="1" fill="none" shape-rendering="crispEdges"/>
<path d="M238.8 28.2L235 30L232.5 32L233.8 42L232.5 52L230 57L226.2 62L222.5 67L223.8 72L227.5 74.5L226.2 84.5L225 93.2L222.5 95L216.2 97L212.5 100L215.5 104.5L217 112L213.8 120.8L220 129.5L215.5 137L212 142.5L212.5 157L214.5 169.5L217 176.5L215.5 180L216.2 183.2L214.5 187L210.5 189L203 188.2L197.5 188.2L195.5 190.8L196.9 190M212 142.5L215.5 149.5L217.5 162L217 170.8L222.5 174.5L223.8 179.5L221.2 184.5L216.2 188.2L210 190L201.2 190.8L200.6 190M196.9 190L196.2 197.5L196.9 203.8L192.5 207.5L190 212.5L188.8 217.5L187.5 227.5L188.1 236.2L191.2 240L194.4 245L195 255L198.8 257.5L200 262.5L198.8 268.8L195 273.8L192.5 275L185.6 275.6L192.5 277.5L194.4 281.2L191.2 285L190.6 290M200.6 190L200 195L201.2 200L201.2 205L196.9 210L199.4 213.8L198.8 217.5L195.6 221.2L196.2 227.5L195.6 233.8L196.2 241.2L197.5 248.8L203.8 252.5L207.5 256.2L211.2 262.5L213.8 265.6L217.5 266.2L222.5 270L227.5 273.8L233.8 280L235 285L238.1 288.8L245 287.5L255 285L260 286.2L265 286.2L270 285M270 285L275 285.8L285 287L292.5 288.2L300 294.5L305 299.5L312.5 303.2L320 305.8L330 308.2L340 310.8L345 313.2L343.8 317L350 319.5L355 320L360 322L365 319.5L375 314.5L385 310.8L400 310.8M190.5 290L200 297L205 302L212.5 307L225 310.8L237.5 314.5L250 319.5L260 325.8L270 332L280 342L287.5 354.5L290 362L282.5 370.8L275 379.5L272.5 389.5L275 399.5L282.5 409.5L292.5 419.5L300 423.2L307.5 425.8L315 424.5L320 427M400 310.8L412.5 312L420 314L425 318.2L432.5 319.5L440 319.5L445 321.5L447.5 325L460 320.8L472.5 316.5L485 312.5L492.5 309.5L496.2 302L495 299.5L498.8 296.5L496.2 295.8L495 299.5L500 302L505 302L510 299.5L517.5 294.5L527.5 287L535 280.8L536.2 275.8L540 269.5L546.2 259.5L553.8 252L556.2 242L562.5 235.8L570 232L577.5 227M551.2 227L555 230.8L560 233.2L562.5 235.8M320 427L322.5 434.5L323.8 447L325 464.5L317.5 474.5L310 484.5L302.5 494.5L295 502L287.5 512L277.5 519.5L270 527L263.8 534.5L261.2 542L260 552L255 555.8L245 560.8L235 567L225 572L215 575.8L205 580L200 581.5M0 617L32.5 613.2M80.5 607.5L97.5 605.8L110 602L127.5 599.5L150 595.8L165 590.8L187.5 585.8L200 580.8M370 42L372.5 40.8L380 40.8L387.5 37L392.5 33.2L397.5 30.8L402.5 28.2L407.5 28.2L412.5 32L420 38.2M420 38.2L420 44.5L425 52L430 54.5L440 58.2L450 62L457.5 67L467.5 68.2L475 72L482.5 77L490 88.2L500 95.8L507.5 102L511.2 100L517.5 102L525 105.8L530 110.8L536.2 113.2L540 124.5L543.8 134.5L550 142L560 149.5L570 153.2L577.5 157L583.8 162L575 169.5L568.8 174.5L566.2 179.5L557.5 184.5L552.5 192L551.2 202L552.5 214.5L551.2 227M765 27.5L755 40L735 63.1L716.2 80L697.5 92.5L672.5 105L660 117.5L647.5 128L638.8 139.5L633.8 152L630 163.2L623.8 178.2L616.2 190.8L607.5 199.5L600 207.5M700 28.2L701.9 29.5L701.2 34.5L702.5 40.8L703.1 42.6L691.2 45.8L689.4 48.2L688.8 53.9L676.2 57L665.6 60.8L663.8 64.5L663.8 68M656 77L658 80.8L661 80.8L664.4 78.2L663 76.4L660 76.4L656 77M660 82L658.8 87L650 88.2L648.1 90.8L648.1 97L645.6 98.2L646.9 100.8L650.6 102L653.1 103.2L650 107L645 108.2L645.6 113.2L650 114.5L655 112L657.5 110.8L656.2 114.5L655.6 119.5L657.5 118.2L661.2 114.5L662.5 108.2L663.1 104.5L660 99.5L658.1 97L658.8 95.1L662.5 95.1L667.5 98.9L672.5 99.5L676.9 96.4M736.2 40.6L733.8 41.2L727.5 41.9L725 41.2L724.4 47.5L725 51.2L723.8 62.5L718.8 70L711.2 73.8L706.2 73.8L704.4 71.9L703.1 75L703.8 81.2L700 78.8L693.8 85L685 92.5L678.8 95L676.2 95L673.8 98.8L668.8 98.8L663.8 96.2L660 95M736.2 27.8L736.2 44.5L739.5 43.2M577.5 227L600 207.5" stroke="#000" stroke-width="1" fill="none" shape-rendering="crispEdges"/>
<g shape-rendering="crispEdges">
<path d="M9.5 27.3 V772.7 M81.5 27.3 V772.7 M154.5 27.3 V772.7 M227.5 27.3 V772.7 M300.5 27.3 V772.7 M372.5 27.3 V772.7 M445.5 27.3 V772.7 M518.5 27.3 V772.7 M590.5 27.3 V772.7 M663.5 27.3 V772.7 M736.5 27.3 V772.7 M0 36.5 H800 M0 109.5 H800 M0 181.5 H800 M0 254.5 H800 M0 327.5 H800 M0 400.5 H800 M0 472.5 H800 M0 545.5 H800 M0 618.5 H800 M0 690.5 H800 M0 763.5 H800" stroke="#808080" stroke-width="1" fill="none"/>
<path d="M1.5 27 v5 M1.5 773 v-5 M9.5 27 v18 M9.5 773 v-18 M16.5 27 v5 M16.5 773 v-5 M23.5 27 v5 M23.5 773 v-5 M30.5 27 v5 M30.5 773 v-5 M38.5 27 v5 M38.5 773 v-5 M45.5 27 v9 M45.5 773 v-9 M52.5 27 v5 M52.5 773 v-5 M60.5 27 v5 M60.5 773 v-5 M67.5 27 v5 M67.5 773 v-5 M74.5 27 v5 M74.5 773 v-5 M81.5 27 v18 M81.5 773 v-18 M89.5 27 v5 M89.5 773 v-5 M96.5 27 v5 M96.5 773 v-5 M103.5 27 v5 M103.5 773 v-5 M110.5 27 v5 M110.5 773 v-5 M118.5 27 v9 M118.5 773 v-9 M125.5 27 v5 M125.5 773 v-5 M132.5 27 v5 M132.5 773 v-5 M140.5 27 v5 M140.5 773 v-5 M147.5 27 v5 M147.5 773 v-5 M154.5 27 v18 M154.5 773 v-18 M161.5 27 v5 M161.5 773 v-5 M169.5 27 v5 M169.5 773 v-5 M176.5 27 v5 M176.5 773 v-5 M183.5 27 v5 M183.5 773 v-5 M190.5 27 v9 M190.5 773 v-9 M198.5 27 v5 M198.5 773 v-5 M205.5 27 v5 M205.5 773 v-5 M212.5 27 v5 M212.5 773 v-5 M220.5 27 v5 M220.5 773 v-5 M227.5 27 v18 M227.5 773 v-18 M234.5 27 v5 M234.5 773 v-5 M241.5 27 v5 M241.5 773 v-5 M249.5 27 v5 M249.5 773 v-5 M256.5 27 v5 M256.5 773 v-5 M263.5 27 v9 M263.5 773 v-9 M270.5 27 v5 M270.5 773 v-5 M278.5 27 v5 M278.5 773 v-5 M285.5 27 v5 M285.5 773 v-5 M292.5 27 v5 M292.5 773 v-5 M300.5 27 v18 M300.5 773 v-18 M307.5 27 v5 M307.5 773 v-5 M314.5 27 v5 M314.5 773 v-5 M321.5 27 v5 M321.5 773 v-5 M329.5 27 v5 M329.5 773 v-5 M336.5 27 v9 M336.5 773 v-9 M343.5 27 v5 M343.5 773 v-5 M350.5 27 v5 M350.5 773 v-5 M358.5 27 v5 M358.5 773 v-5 M365.5 27 v5 M365.5 773 v-5 M372.5 27 v18 M372.5 773 v-18 M380.5 27 v5 M380.5 773 v-5 M387.5 27 v5 M387.5 773 v-5 M394.5 27 v5 M394.5 773 v-5 M401.5 27 v5 M401.5 773 v-5 M409.5 27 v9 M409.5 773 v-9 M416.5 27 v5 M416.5 773 v-5 M423.5 27 v5 M423.5 773 v-5 M430.5 27 v5 M430.5 773 v-5 M438.5 27 v5 M438.5 773 v-5 M445.5 27 v18 M445.5 773 v-18 M452.5 27 v5 M452.5 773 v-5 M460.5 27 v5 M460.5 773 v-5 M467.5 27 v5 M467.5 773 v-5 M474.5 27 v5 M474.5 773 v-5 M481.5 27 v9 M481.5 773 v-9 M489.5 27 v5 M489.5 773 v-5 M496.5 27 v5 M496.5 773 v-5 M503.5 27 v5 M503.5 773 v-5 M510.5 27 v5 M510.5 773 v-5 M518.5 27 v18 M518.5 773 v-18 M525.5 27 v5 M525.5 773 v-5 M532.5 27 v5 M532.5 773 v-5 M540.5 27 v5 M540.5 773 v-5 M547.5 27 v5 M547.5 773 v-5 M554.5 27 v9 M554.5 773 v-9 M561.5 27 v5 M561.5 773 v-5 M569.5 27 v5 M569.5 773 v-5 M576.5 27 v5 M576.5 773 v-5 M583.5 27 v5 M583.5 773 v-5 M590.5 27 v18 M590.5 773 v-18 M598.5 27 v5 M598.5 773 v-5 M605.5 27 v5 M605.5 773 v-5 M612.5 27 v5 M612.5 773 v-5 M620.5 27 v5 M620.5 773 v-5 M627.5 27 v9 M627.5 773 v-9 M634.5 27 v5 M634.5 773 v-5 M641.5 27 v5 M641.5 773 v-5 M649.5 27 v5 M649.5 773 v-5 M656.5 27 v5 M656.5 773 v-5 M663.5 27 v18 M663.5 773 v-18 M670.5 27 v5 M670.5 773 v-5 M678.5 27 v5 M678.5 773 v-5 M685.5 27 v5 M685.5 773 v-5 M692.5 27 v5 M692.5 773 v-5 M700.5 27 v9 M700.5 773 v-9 M707.5 27 v5 M707.5 773 v-5 M714.5 27 v5 M714.5 773 v-5 M721.5 27 v5 M721.5 773 v-5 M729.5 27 v5 M729.5 773 v-5 M736.5 27 v18 M736.5 773 v-18 M743.5 27 v5 M743.5 773 v-5 M750.5 27 v5 M750.5 773 v-5 M758.5 27 v5 M758.5 773 v-5 M765.5 27 v5 M765.5 773 v-5 M772.5 27 v9 M772.5 773 v-9 M780.5 27 v5 M780.5 773 v-5 M787.5 27 v5 M787.5 773 v-5 M794.5 27 v5 M794.5 773 v-5 M0 29.5 h5 M800 29.5 h-5 M0 36.5 h18 M800 36.5 h-18 M0 43.5 h5 M800 43.5 h-5 M0 50.5 h5 M800 50.5 h-5 M0 58.5 h5 M800 58.5 h-5 M0 65.5 h5 M800 65.5 h-5 M0 72.5 h9 M800 72.5 h-9 M0 80.5 h5 M800 80.5 h-5 M0 87.5 h5 M800 87.5 h-5 M0 94.5 h5 M800 94.5 h-5 M0 101.5 h5 M800 101.5 h-5 M0 109.5 h18 M800 109.5 h-18 M0 116.5 h5 M800 116.5 h-5 M0 123.5 h5 M800 123.5 h-5 M0 130.5 h5 M800 130.5 h-5 M0 138.5 h5 M800 138.5 h-5 M0 145.5 h9 M800 145.5 h-9 M0 152.5 h5 M800 152.5 h-5 M0 160.5 h5 M800 160.5 h-5 M0 167.5 h5 M800 167.5 h-5 M0 174.5 h5 M800 174.5 h-5 M0 181.5 h18 M800 181.5 h-18 M0 189.5 h5 M800 189.5 h-5 M0 196.5 h5 M800 196.5 h-5 M0 203.5 h5 M800 203.5 h-5 M0 210.5 h5 M800 210.5 h-5 M0 218.5 h9 M800 218.5 h-9 M0 225.5 h5 M800 225.5 h-5 M0 232.5 h5 M800 232.5 h-5 M0 240.5 h5 M800 240.5 h-5 M0 247.5 h5 M800 247.5 h-5 M0 254.5 h18 M800 254.5 h-18 M0 261.5 h5 M800 261.5 h-5 M0 269.5 h5 M800 269.5 h-5 M0 276.5 h5 M800 276.5 h-5 M0 283.5 h5 M800 283.5 h-5 M0 290.5 h9 M800 290.5 h-9 M0 298.5 h5 M800 298.5 h-5 M0 305.5 h5 M800 305.5 h-5 M0 312.5 h5 M800 312.5 h-5 M0 320.5 h5 M800 320.5 h-5 M0 327.5 h18 M800 327.5 h-18 M0 334.5 h5 M800 334.5 h-5 M0 341.5 h5 M800 341.5 h-5 M0 349.5 h5 M800 349.5 h-5 M0 356.5 h5 M800 356.5 h-5 M0 363.5 h9 M800 363.5 h-9 M0 370.5 h5 M800 370.5 h-5 M0 378.5 h5 M800 378.5 h-5 M0 385.5 h5 M800 385.5 h-5 M0 392.5 h5 M800 392.5 h-5 M0 400.5 h18 M800 400.5 h-18 M0 407.5 h5 M800 407.5 h-5 M0 414.5 h5 M800 414.5 h-5 M0 421.5 h5 M800 421.5 h-5 M0 429.5 h5 M800 429.5 h-5 M0 436.5 h9 M800 436.5 h-9 M0 443.5 h5 M800 443.5 h-5 M0 450.5 h5 M800 450.5 h-5 M0 458.5 h5 M800 458.5 h-5 M0 465.5 h5 M800 465.5 h-5 M0 472.5 h18 M800 472.5 h-18 M0 480.5 h5 M800 480.5 h-5 M0 487.5 h5 M800 487.5 h-5 M0 494.5 h5 M800 494.5 h-5 M0 501.5 h5 M800 501.5 h-5 M0 509.5 h9 M800 509.5 h-9 M0 516.5 h5 M800 516.5 h-5 M0 523.5 h5 M800 523.5 h-5 M0 530.5 h5 M800 530.5 h-5 M0 538.5 h5 M800 538.5 h-5 M0 545.5 h18 M800 545.5 h-18 M0 552.5 h5 M800 552.5 h-5 M0 560.5 h5 M800 560.5 h-5 M0 567.5 h5 M800 567.5 h-5 M0 574.5 h5 M800 574.5 h-5 M0 581.5 h9 M800 581.5 h-9 M0 589.5 h5 M800 589.5 h-5 M0 596.5 h5 M800 596.5 h-5 M0 603.5 h5 M800 603.5 h-5 M0 610.5 h5 M800 610.5 h-5 M0 618.5 h18 M800 618.5 h-18 M0 625.5 h5 M800 625.5 h-5 M0 632.5 h5 M800 632.5 h-5 M0 640.5 h5 M800 640.5 h-5 M0 647.5 h5 M800 647.5 h-5 M0 654.5 h9 M800 654.5 h-9 M0 661.5 h5 M800 661.5 h-5 M0 669.5 h5 M800 669.5 h-5 M0 676.5 h5 M800 676.5 h-5 M0 683.5 h5 M800 683.5 h-5 M0 690.5 h18 M800 690.5 h-18 M0 698.5 h5 M800 698.5 h-5 M0 705.5 h5 M800 705.5 h-5 M0 712.5 h5 M800 712.5 h-5 M0 720.5 h5 M800 720.5 h-5 M0 727.5 h9 M800 727.5 h-9 M0 734.5 h5 M800 734.5 h-5 M0 741.5 h5 M800 741.5 h-5 M0 749.5 h5 M800 749.5 h-5 M0 756.5 h5 M800 756.5 h-5 M0 763.5 h18 M800 763.5 h-18 M0 770.5 h5 M800 770.5 h-5 M0 27.5 H800 M0.5 27 V773" stroke="#000" stroke-width="1" fill="none"/>
<rect x="32.5" y="160.5" width="48" height="607.5" fill="#fff" stroke="#000" stroke-width="1"/>
<rect x="34" y="162" width="45" height="605" fill="url(#cb)"/>
</g>
<defs><clipPath id="pc"><rect x="0" y="28" width="800" height="745"/></clipPath></defs><g clip-path="url(#pc)"><text transform="translate(14 744) rotate(90)" textLength="20" lengthAdjust="spacingAndGlyphs" style="font-family:'Liberation Sans',sans-serif;font-size:11.5px" fill="#808080">61W</text><text transform="translate(86 744) rotate(90)" textLength="20" lengthAdjust="spacingAndGlyphs" style="font-family:'Liberation Sans',sans-serif;font-size:11.5px" fill="#808080">60W</text><text transform="translate(159 744) rotate(90)" textLength="20" lengthAdjust="spacingAndGlyphs" style="font-family:'Liberation Sans',sans-serif;font-size:11.5px" fill="#808080">59W</text><text transform="translate(232 744) rotate(90)" textLength="20" lengthAdjust="spacingAndGlyphs" style="font-family:'Liberation Sans',sans-serif;font-size:11.5px" fill="#808080">58W</text><text transform="translate(305 744) rotate(90)" textLength="20" lengthAdjust="spacingAndGlyphs" style="font-family:'Liberation Sans',sans-serif;font-size:11.5px" fill="#808080">57W</text><text transform="translate(377 744) rotate(90)" textLength="20" lengthAdjust="spacingAndGlyphs" style="font-family:'Liberation Sans',sans-serif;font-size:11.5px" fill="#808080">56W</text><text transform="translate(450 744) rotate(90)" textLength="20" lengthAdjust="spacingAndGlyphs" style="font-family:'Liberation Sans',sans-serif;font-size:11.5px" fill="#808080">55W</text><text transform="translate(523 744) rotate(90)" textLength="20" lengthAdjust="spacingAndGlyphs" style="font-family:'Liberation Sans',sans-serif;font-size:11.5px" fill="#808080">54W</text><text transform="translate(595 744) rotate(90)" textLength="20" lengthAdjust="spacingAndGlyphs" style="font-family:'Liberation Sans',sans-serif;font-size:11.5px" fill="#808080">53W</text><text transform="translate(668 744) rotate(90)" textLength="20" lengthAdjust="spacingAndGlyphs" style="font-family:'Liberation Sans',sans-serif;font-size:11.5px" fill="#808080">52W</text><text transform="translate(741 744) rotate(90)" textLength="20" lengthAdjust="spacingAndGlyphs" style="font-family:'Liberation Sans',sans-serif;font-size:11.5px" fill="#808080">51W</text><text x="792" y="32" text-anchor="end" style="font-family:'Liberation Sans',sans-serif;font-size:12px" fill="#808080">31S</text><text x="792" y="105" text-anchor="end" style="font-family:'Liberation Sans',sans-serif;font-size:12px" fill="#808080">32S</text><text x="792" y="177" text-anchor="end" style="font-family:'Liberation Sans',sans-serif;font-size:12px" fill="#808080">33S</text><text x="792" y="250" text-anchor="end" style="font-family:'Liberation Sans',sans-serif;font-size:12px" fill="#808080">34S</text><text x="792" y="323" text-anchor="end" style="font-family:'Liberation Sans',sans-serif;font-size:12px" fill="#808080">35S</text><text x="792" y="396" text-anchor="end" style="font-family:'Liberation Sans',sans-serif;font-size:12px" fill="#808080">36S</text><text x="792" y="468" text-anchor="end" style="font-family:'Liberation Sans',sans-serif;font-size:12px" fill="#808080">37S</text><text x="792" y="541" text-anchor="end" style="font-family:'Liberation Sans',sans-serif;font-size:12px" fill="#808080">38S</text><text x="792" y="614" text-anchor="end" style="font-family:'Liberation Sans',sans-serif;font-size:12px" fill="#808080">39S</text><text x="792" y="686" text-anchor="end" style="font-family:'Liberation Sans',sans-serif;font-size:12px" fill="#808080">40S</text><text x="792" y="759" text-anchor="end" style="font-family:'Liberation Sans',sans-serif;font-size:12px" fill="#808080">41S</text></g>
<text x="34" y="148" textLength="43" lengthAdjust="spacing" style="font-family:'Liberation Sans',sans-serif;font-size:17px" fill="#000">[m/s]</text>
<text x="86.3" y="165.5" style="font-family:'Liberation Sans',sans-serif;font-size:16px;letter-spacing:1px" fill="#000">30</text>
<text x="86.3" y="317.2" style="font-family:'Liberation Sans',sans-serif;font-size:16px;letter-spacing:1px" fill="#000">22</text>
<text x="86.3" y="469" style="font-family:'Liberation Sans',sans-serif;font-size:16px;letter-spacing:1px" fill="#000">15</text>
<text x="86.3" y="620.8" style="font-family:'Liberation Sans',sans-serif;font-size:16px;letter-spacing:1px" fill="#000">8</text>
<text x="86.3" y="772.5" style="font-family:'Liberation Sans',sans-serif;font-size:16px;letter-spacing:1px" fill="#000">0</text>
<text x="6" y="50" textLength="382" lengthAdjust="spacingAndGlyphs" style="font-family:'Liberation Sans',sans-serif;font-weight:bold;font-size:25px" fill="#808080" stroke="#808080" stroke-width="0.7">modelo GEFS-WAVE (NCEP)</text>
<text x="6" y="72" textLength="495" lengthAdjust="spacingAndGlyphs" style="font-family:'Liberation Sans',sans-serif;font-weight:bold;font-size:25px" fill="#808080" stroke="#808080" stroke-width="0.7">forecast date: 2026-01-04 18:00:00</text>
<text x="42" y="95" textLength="448" lengthAdjust="spacingAndGlyphs" style="font-family:'Liberation Sans',sans-serif;font-weight:bold;font-size:25px" fill="#808080" stroke="#808080" stroke-width="0.7">valid date: 2026-01-14 15:00:00</text>
</svg>
</body></html>
